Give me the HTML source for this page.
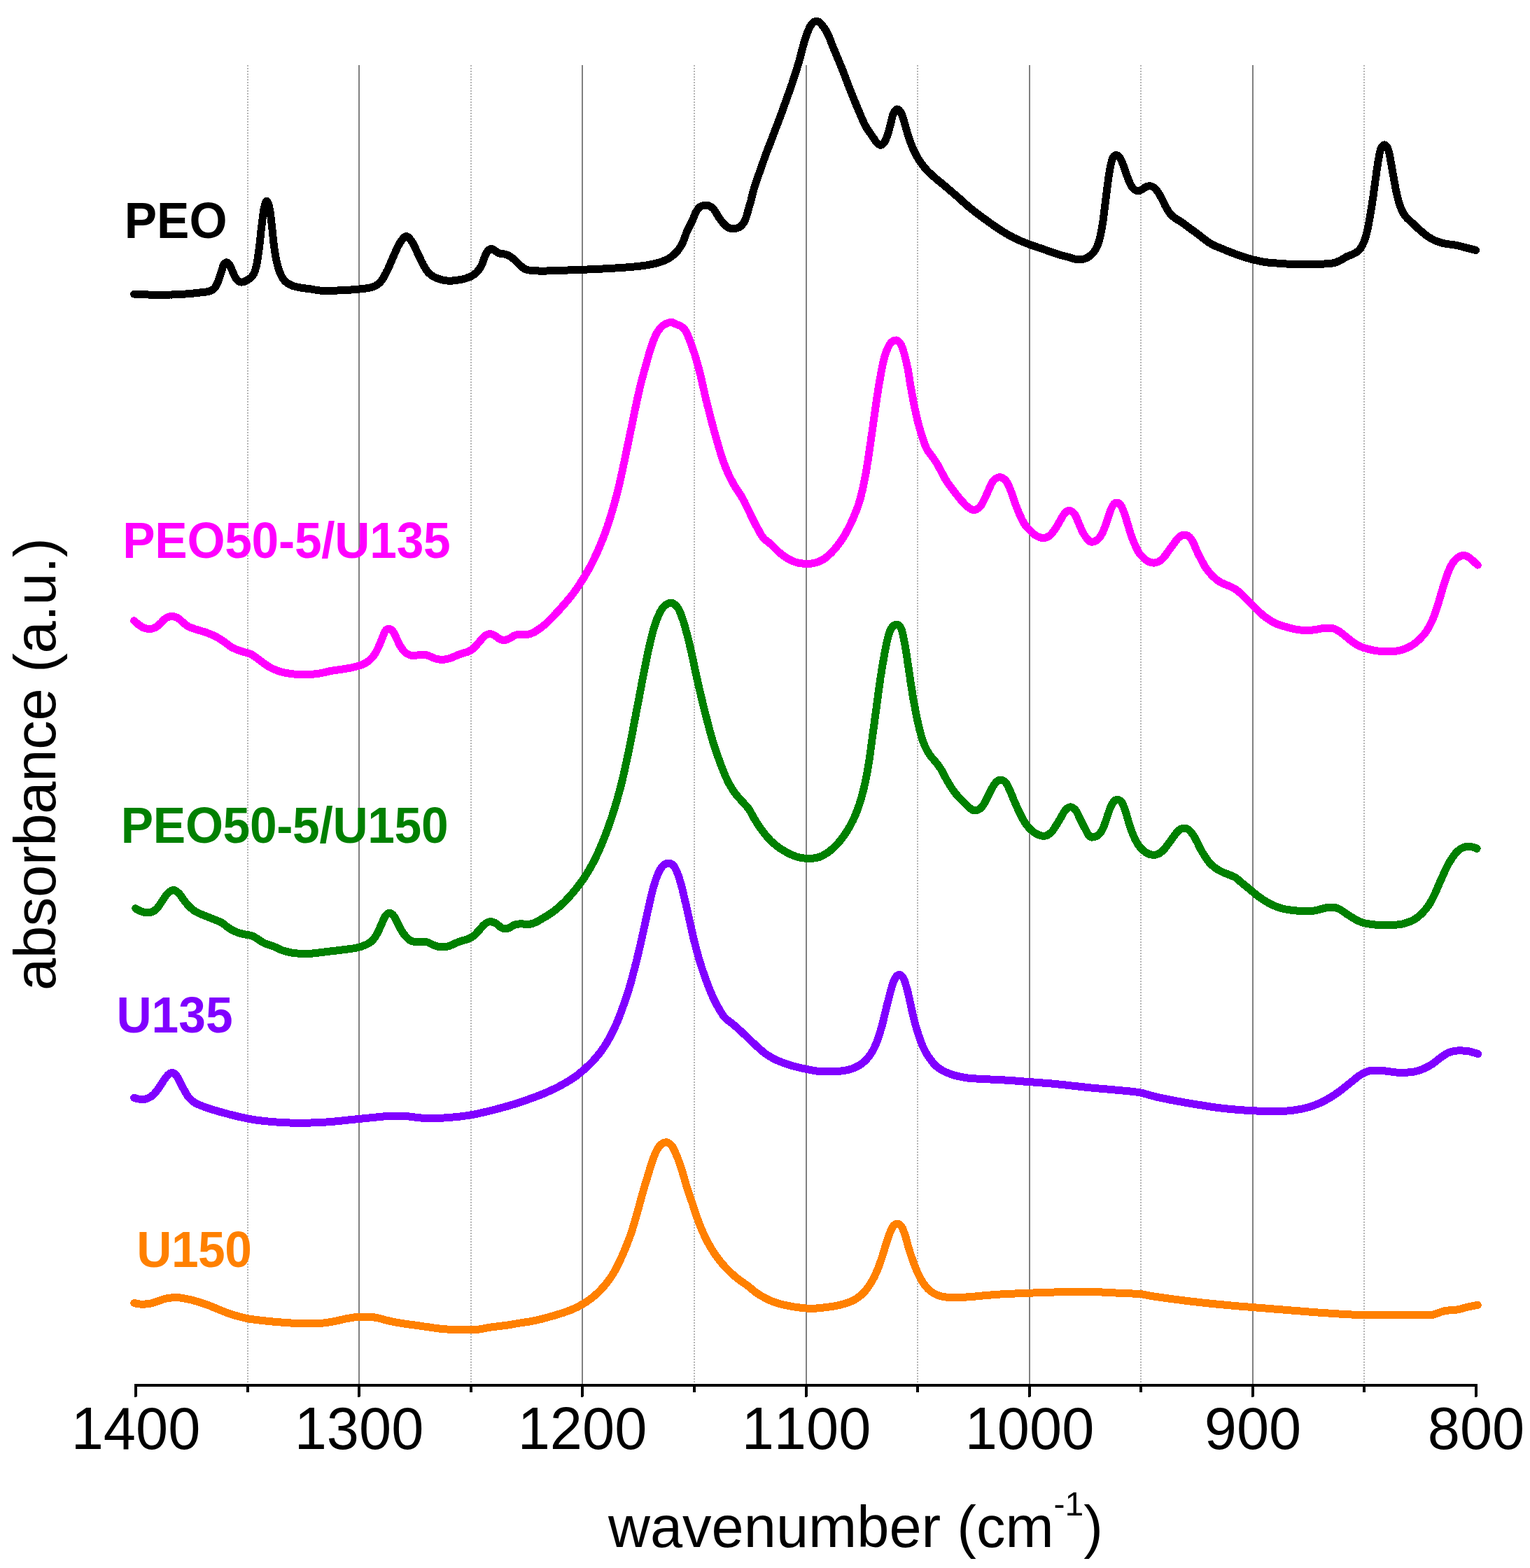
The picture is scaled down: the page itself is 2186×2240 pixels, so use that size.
<!DOCTYPE html>
<html><head><meta charset="utf-8"><title>FTIR spectra</title>
<style>
html,body{margin:0;padding:0;background:#fff;}
body{width:2186px;height:2240px;overflow:hidden;}
svg{display:block;}
path,line{shape-rendering:crispEdges;}
text{font-family:"Liberation Sans",Arial,Helvetica,sans-serif;font-kerning:none;}
.r{font-weight:400;fill:#000;}
.b{font-weight:700;}
</style></head><body>
<svg width="2186" height="2240" viewBox="0 0 2186 2240">
<rect width="2186" height="2240" fill="#fff"/>
<line x1="513.0" y1="93" x2="513.0" y2="1979.0" stroke="#808080" stroke-width="2"/>
<line x1="832.0" y1="93" x2="832.0" y2="1979.0" stroke="#808080" stroke-width="2"/>
<line x1="1152.0" y1="93" x2="1152.0" y2="1979.0" stroke="#808080" stroke-width="2"/>
<line x1="1471.0" y1="93" x2="1471.0" y2="1979.0" stroke="#808080" stroke-width="2"/>
<line x1="1790.0" y1="93" x2="1790.0" y2="1979.0" stroke="#808080" stroke-width="2"/>
<line x1="354.0" y1="93" x2="354.0" y2="1979.0" stroke="#b4b4b4" stroke-width="2" stroke-dasharray="2 2"/>
<line x1="673.0" y1="93" x2="673.0" y2="1979.0" stroke="#b4b4b4" stroke-width="2" stroke-dasharray="2 2"/>
<line x1="992.0" y1="93" x2="992.0" y2="1979.0" stroke="#b4b4b4" stroke-width="2" stroke-dasharray="2 2"/>
<line x1="1311.0" y1="93" x2="1311.0" y2="1979.0" stroke="#b4b4b4" stroke-width="2" stroke-dasharray="2 2"/>
<line x1="1630.0" y1="93" x2="1630.0" y2="1979.0" stroke="#b4b4b4" stroke-width="2" stroke-dasharray="2 2"/>
<line x1="1949.0" y1="93" x2="1949.0" y2="1979.0" stroke="#b4b4b4" stroke-width="2" stroke-dasharray="2 2"/>
<path d="M191.8 1861.5L193.8 1862.0L195.7 1862.4L197.7 1862.7L199.7 1863.0L201.7 1863.1L203.6 1863.2L205.6 1863.1L207.6 1863.0L209.6 1862.8L211.6 1862.6L213.6 1862.3L215.6 1862.0L217.5 1861.5L219.4 1861.0L221.3 1860.3L223.2 1859.6L225.1 1858.9L227.0 1858.3L228.9 1857.6L230.8 1857.0L232.7 1856.3L234.6 1855.7L236.5 1855.2L238.5 1854.8L240.4 1854.5L242.4 1854.2L244.4 1854.0L246.4 1853.8L248.4 1853.6L250.4 1853.6L252.4 1853.6L254.4 1853.7L256.4 1853.9L258.4 1854.2L260.3 1854.5L262.3 1854.8L264.3 1855.1L266.3 1855.5L268.2 1855.9L270.2 1856.3L272.1 1856.7L274.1 1857.2L276.0 1857.7L277.9 1858.3L279.9 1858.8L281.8 1859.3L283.7 1859.9L285.6 1860.5L287.5 1861.1L289.4 1861.7L291.3 1862.4L293.2 1863.0L295.1 1863.7L297.0 1864.4L298.8 1865.1L300.7 1865.8L302.6 1866.6L304.4 1867.4L306.3 1868.1L308.1 1868.9L310.0 1869.6L311.8 1870.4L313.7 1871.2L315.5 1871.9L317.4 1872.7L319.2 1873.4L321.1 1874.2L323.0 1874.9L324.8 1875.5L326.7 1876.2L328.6 1876.9L330.5 1877.5L332.4 1878.1L334.3 1878.7L336.2 1879.3L338.2 1879.8L340.1 1880.3L342.0 1880.9L344.0 1881.4L345.9 1881.9L347.9 1882.3L349.8 1882.8L351.8 1883.2L353.7 1883.6L355.7 1884.0L357.7 1884.3L359.6 1884.6L361.6 1884.9L363.6 1885.2L365.6 1885.4L367.5 1885.7L369.5 1885.9L371.5 1886.2L373.5 1886.4L375.5 1886.6L377.5 1886.8L379.5 1887.0L381.5 1887.2L383.5 1887.4L385.5 1887.6L387.5 1887.8L389.4 1888.0L391.4 1888.1L393.4 1888.3L395.4 1888.5L397.4 1888.6L399.4 1888.8L401.4 1889.0L403.4 1889.1L405.4 1889.3L407.4 1889.4L409.4 1889.6L411.4 1889.7L413.4 1889.9L415.4 1890.0L417.4 1890.1L419.4 1890.2L421.4 1890.4L423.4 1890.5L425.4 1890.5L427.4 1890.6L429.4 1890.6L431.4 1890.7L433.4 1890.7L435.4 1890.8L437.4 1890.8L439.4 1890.8L441.4 1890.9L443.4 1890.9L445.4 1890.9L447.4 1890.8L449.4 1890.8L451.4 1890.7L453.4 1890.6L455.4 1890.5L457.4 1890.4L459.3 1890.2L461.3 1890.1L463.3 1889.9L465.3 1889.7L467.3 1889.4L469.3 1889.1L471.2 1888.8L473.2 1888.4L475.2 1888.0L477.1 1887.6L479.1 1887.2L481.1 1886.8L483.0 1886.4L485.0 1886.0L486.9 1885.5L488.9 1885.1L490.8 1884.6L492.8 1884.2L494.7 1883.8L496.7 1883.4L498.7 1883.1L500.6 1882.8L502.6 1882.5L504.6 1882.2L506.6 1881.9L508.6 1881.7L510.6 1881.6L512.6 1881.5L514.6 1881.4L516.6 1881.3L518.6 1881.3L520.6 1881.2L522.6 1881.2L524.6 1881.2L526.6 1881.2L528.6 1881.3L530.6 1881.4L532.5 1881.6L534.5 1881.9L536.5 1882.3L538.5 1882.6L540.4 1883.0L542.4 1883.4L544.3 1883.9L546.2 1884.5L548.2 1885.0L550.1 1885.6L552.0 1886.1L554.0 1886.6L555.9 1887.0L557.9 1887.4L559.8 1887.8L561.8 1888.3L563.8 1888.6L565.7 1889.0L567.7 1889.4L569.7 1889.7L571.6 1890.1L573.6 1890.4L575.6 1890.7L577.6 1891.0L579.5 1891.3L581.5 1891.5L583.5 1891.8L585.5 1892.1L587.5 1892.3L589.5 1892.6L591.4 1892.9L593.4 1893.2L595.4 1893.5L597.4 1893.8L599.4 1894.0L601.3 1894.3L603.3 1894.6L605.3 1894.9L607.3 1895.2L609.3 1895.5L611.2 1895.7L613.2 1896.0L615.2 1896.3L617.2 1896.6L619.2 1896.9L621.1 1897.1L623.1 1897.4L625.1 1897.7L627.1 1897.9L629.1 1898.2L631.1 1898.4L633.1 1898.5L635.1 1898.7L637.0 1898.8L639.0 1899.0L641.0 1899.1L643.0 1899.2L645.0 1899.3L647.0 1899.4L649.0 1899.5L651.0 1899.6L653.0 1899.7L655.0 1899.7L657.0 1899.7L659.0 1899.7L661.0 1899.7L663.0 1899.7L665.0 1899.7L667.0 1899.6L669.0 1899.6L671.1 1899.6L673.1 1899.6L675.0 1899.5L677.0 1899.5L679.0 1899.4L681.0 1899.3L683.0 1899.2L685.0 1899.0L687.0 1898.7L688.9 1898.3L690.9 1897.9L692.9 1897.5L694.8 1897.1L696.8 1896.8L698.8 1896.4L700.8 1896.1L702.8 1895.9L704.7 1895.6L706.7 1895.4L708.7 1895.1L710.7 1894.9L712.7 1894.7L714.7 1894.4L716.7 1894.2L718.6 1893.9L720.6 1893.6L722.6 1893.4L724.6 1893.1L726.6 1892.8L728.5 1892.4L730.5 1892.1L732.5 1891.8L734.4 1891.4L736.4 1891.1L738.4 1890.8L740.4 1890.5L742.3 1890.1L744.3 1889.8L746.3 1889.5L748.3 1889.2L750.3 1888.9L752.2 1888.6L754.2 1888.3L756.2 1888.0L758.2 1887.6L760.1 1887.3L762.1 1886.9L764.0 1886.5L766.0 1886.1L767.9 1885.7L769.9 1885.2L771.8 1884.8L773.8 1884.3L775.7 1883.8L777.6 1883.2L779.6 1882.7L781.5 1882.2L783.4 1881.7L785.4 1881.1L787.3 1880.6L789.2 1880.1L791.2 1879.5L793.1 1879.0L795.0 1878.4L796.9 1877.8L798.8 1877.2L800.7 1876.6L802.6 1876.0L804.5 1875.4L806.4 1874.7L808.3 1874.1L810.2 1873.4L812.1 1872.7L814.0 1872.0L815.8 1871.3L817.7 1870.5L819.5 1869.7L821.3 1868.9L823.1 1868.1L824.9 1867.2L826.7 1866.3L828.5 1865.3L830.2 1864.3L831.9 1863.3L833.7 1862.3L835.4 1861.2L837.1 1860.2L838.7 1859.1L840.4 1857.9L842.0 1856.8L843.6 1855.6L845.2 1854.4L846.8 1853.2L848.4 1851.9L849.9 1850.6L851.4 1849.3L852.9 1847.9L854.3 1846.6L855.8 1845.2L857.2 1843.8L858.6 1842.3L859.9 1840.8L861.3 1839.4L862.6 1837.9L863.9 1836.4L865.2 1834.8L866.5 1833.3L867.7 1831.7L868.9 1830.1L870.1 1828.5L871.3 1826.9L872.4 1825.2L873.5 1823.6L874.6 1821.9L875.7 1820.2L876.7 1818.5L877.7 1816.8L878.7 1815.0L879.6 1813.2L880.5 1811.5L881.5 1809.7L882.4 1807.9L883.2 1806.1L884.1 1804.3L885.0 1802.5L885.9 1800.7L886.7 1798.9L887.5 1797.1L888.4 1795.2L889.2 1793.4L890.0 1791.6L890.8 1789.7L891.6 1787.9L892.3 1786.0L893.1 1784.2L893.9 1782.4L894.6 1780.5L895.4 1778.6L896.1 1776.8L896.8 1774.9L897.5 1773.1L898.3 1771.2L899.0 1769.3L899.7 1767.4L900.3 1765.6L901.0 1763.7L901.7 1761.8L902.3 1759.9L902.9 1758.0L903.5 1756.1L904.1 1754.2L904.7 1752.3L905.3 1750.4L905.9 1748.4L906.5 1746.5L907.0 1744.6L907.6 1742.7L908.1 1740.8L908.7 1738.8L909.2 1736.9L909.8 1735.0L910.3 1733.1L910.9 1731.1L911.4 1729.2L911.9 1727.3L912.5 1725.3L913.0 1723.4L913.5 1721.5L914.0 1719.6L914.5 1717.6L915.0 1715.7L915.6 1713.8L916.1 1711.8L916.6 1709.9L917.1 1708.0L917.7 1706.0L918.2 1704.1L918.8 1702.2L919.3 1700.3L919.9 1698.4L920.5 1696.4L921.0 1694.5L921.6 1692.6L922.2 1690.7L922.8 1688.8L923.4 1686.9L924.0 1685.0L924.5 1683.0L925.1 1681.1L925.7 1679.2L926.3 1677.3L926.9 1675.4L927.4 1673.5L928.0 1671.5L928.6 1669.6L929.2 1667.7L929.7 1665.8L930.3 1663.9L931.0 1662.0L931.6 1660.1L932.3 1658.2L932.9 1656.3L933.6 1654.4L934.3 1652.5L935.0 1650.6L935.8 1648.7L936.5 1646.9L937.4 1645.1L938.3 1643.3L939.2 1641.6L940.3 1639.9L941.5 1638.3L942.8 1636.7L944.2 1635.3L945.8 1634.1L947.5 1633.0L949.3 1632.2L951.2 1631.8L953.1 1632.0L954.9 1632.8L956.7 1633.9L958.2 1635.2L959.5 1636.5L960.7 1638.1L961.7 1639.8L962.7 1641.6L963.5 1643.5L964.4 1645.4L965.2 1647.3L966.0 1649.1L966.8 1650.9L967.6 1652.8L968.3 1654.6L969.0 1656.5L969.7 1658.4L970.4 1660.3L971.0 1662.2L971.7 1664.1L972.3 1666.0L973.0 1667.9L973.6 1669.8L974.2 1671.7L974.8 1673.6L975.4 1675.5L975.9 1677.4L976.5 1679.3L977.1 1681.2L977.6 1683.2L978.2 1685.1L978.7 1687.0L979.3 1688.9L979.9 1690.9L980.4 1692.8L981.0 1694.7L981.6 1696.6L982.3 1698.5L982.9 1700.4L983.5 1702.3L984.1 1704.2L984.8 1706.1L985.4 1708.0L986.1 1709.9L986.7 1711.8L987.3 1713.7L988.0 1715.6L988.6 1717.4L989.3 1719.3L989.9 1721.2L990.5 1723.2L991.1 1725.1L991.7 1727.0L992.3 1728.9L993.0 1730.8L993.6 1732.7L994.2 1734.6L994.9 1736.5L995.5 1738.4L996.2 1740.2L996.9 1742.1L997.6 1744.0L998.3 1745.9L999.0 1747.7L999.7 1749.6L1000.5 1751.4L1001.2 1753.3L1002.0 1755.2L1002.8 1757.0L1003.6 1758.8L1004.4 1760.7L1005.2 1762.5L1006.0 1764.3L1006.9 1766.1L1007.7 1767.9L1008.6 1769.7L1009.5 1771.5L1010.5 1773.3L1011.4 1775.0L1012.4 1776.8L1013.4 1778.5L1014.3 1780.3L1015.4 1782.0L1016.4 1783.7L1017.4 1785.4L1018.5 1787.1L1019.6 1788.8L1020.7 1790.5L1021.8 1792.1L1022.9 1793.8L1024.1 1795.4L1025.3 1797.0L1026.5 1798.6L1027.7 1800.2L1029.0 1801.7L1030.2 1803.3L1031.5 1804.8L1032.8 1806.3L1034.2 1807.8L1035.5 1809.3L1036.9 1810.7L1038.3 1812.2L1039.7 1813.6L1041.1 1815.0L1042.5 1816.4L1044.0 1817.8L1045.4 1819.2L1046.9 1820.6L1048.4 1821.9L1049.9 1823.3L1051.4 1824.6L1052.9 1825.8L1054.5 1827.1L1056.1 1828.3L1057.7 1829.5L1059.3 1830.6L1061.0 1831.7L1062.6 1832.9L1064.3 1834.0L1065.9 1835.1L1067.6 1836.3L1069.1 1837.5L1070.7 1838.8L1072.2 1840.0L1073.8 1841.3L1075.3 1842.6L1076.9 1843.9L1078.4 1845.1L1080.0 1846.3L1081.7 1847.4L1083.3 1848.6L1085.0 1849.6L1086.7 1850.7L1088.5 1851.7L1090.2 1852.7L1091.9 1853.7L1093.7 1854.6L1095.5 1855.5L1097.3 1856.4L1099.1 1857.3L1100.9 1858.1L1102.8 1858.9L1104.6 1859.6L1106.5 1860.3L1108.4 1860.9L1110.3 1861.5L1112.2 1862.1L1114.1 1862.6L1116.1 1863.1L1118.0 1863.6L1120.0 1864.1L1121.9 1864.5L1123.9 1864.9L1125.8 1865.3L1127.8 1865.7L1129.8 1866.1L1131.8 1866.5L1133.7 1866.8L1135.7 1867.1L1137.7 1867.4L1139.7 1867.7L1141.6 1867.9L1143.6 1868.1L1145.6 1868.4L1147.6 1868.6L1149.6 1868.8L1151.6 1869.0L1153.6 1869.1L1155.6 1869.2L1157.6 1869.3L1159.6 1869.4L1161.6 1869.3L1163.6 1869.3L1165.6 1869.1L1167.6 1868.9L1169.6 1868.7L1171.6 1868.5L1173.5 1868.3L1175.5 1868.1L1177.5 1867.9L1179.5 1867.7L1181.5 1867.4L1183.5 1867.2L1185.5 1866.9L1187.5 1866.6L1189.4 1866.3L1191.4 1866.0L1193.4 1865.6L1195.3 1865.2L1197.3 1864.8L1199.3 1864.4L1201.2 1863.9L1203.1 1863.4L1205.1 1862.9L1207.0 1862.4L1208.9 1861.8L1210.8 1861.1L1212.7 1860.4L1214.6 1859.7L1216.4 1858.9L1218.2 1858.1L1220.0 1857.2L1221.7 1856.3L1223.4 1855.2L1225.1 1854.1L1226.8 1852.9L1228.4 1851.7L1229.9 1850.4L1231.4 1849.1L1232.8 1847.7L1234.2 1846.3L1235.6 1844.8L1236.9 1843.3L1238.1 1841.7L1239.3 1840.1L1240.5 1838.5L1241.7 1836.8L1242.8 1835.2L1243.8 1833.5L1244.9 1831.8L1245.9 1830.1L1246.9 1828.3L1247.8 1826.5L1248.8 1824.8L1249.7 1823.0L1250.5 1821.2L1251.4 1819.3L1252.2 1817.5L1253.0 1815.7L1253.7 1813.9L1254.5 1812.0L1255.2 1810.1L1255.9 1808.3L1256.6 1806.4L1257.3 1804.5L1257.9 1802.6L1258.6 1800.7L1259.2 1798.8L1259.9 1796.9L1260.5 1795.0L1261.1 1793.1L1261.7 1791.2L1262.3 1789.3L1262.9 1787.4L1263.5 1785.5L1264.0 1783.5L1264.6 1781.6L1265.2 1779.7L1265.8 1777.8L1266.4 1775.9L1267.1 1774.0L1267.7 1772.1L1268.3 1770.2L1268.9 1768.2L1269.6 1766.3L1270.2 1764.4L1270.9 1762.6L1271.6 1760.7L1272.4 1758.9L1273.3 1757.1L1274.2 1755.2L1275.1 1753.3L1276.2 1751.6L1277.5 1750.2L1279.0 1749.0L1280.8 1748.3L1282.6 1748.2L1284.4 1748.9L1286.1 1750.1L1287.4 1751.5L1288.5 1753.0L1289.5 1754.7L1290.3 1756.6L1291.0 1758.5L1291.7 1760.5L1292.4 1762.4L1293.1 1764.3L1293.7 1766.2L1294.3 1768.1L1294.8 1770.1L1295.3 1772.0L1295.9 1773.9L1296.4 1775.9L1296.9 1777.8L1297.4 1779.7L1298.0 1781.7L1298.5 1783.6L1299.1 1785.5L1299.7 1787.4L1300.3 1789.3L1300.9 1791.2L1301.6 1793.1L1302.2 1795.0L1302.8 1796.9L1303.5 1798.8L1304.2 1800.7L1304.8 1802.6L1305.5 1804.5L1306.2 1806.3L1307.0 1808.2L1307.7 1810.1L1308.4 1811.9L1309.2 1813.8L1310.0 1815.6L1310.8 1817.5L1311.6 1819.3L1312.5 1821.1L1313.4 1822.9L1314.3 1824.6L1315.2 1826.4L1316.2 1828.2L1317.2 1829.9L1318.3 1831.6L1319.4 1833.3L1320.6 1834.9L1321.8 1836.5L1323.0 1838.0L1324.3 1839.5L1325.7 1841.0L1327.2 1842.4L1328.7 1843.7L1330.3 1845.0L1331.9 1846.1L1333.6 1847.2L1335.3 1848.1L1337.1 1849.0L1338.9 1849.9L1340.8 1850.7L1342.7 1851.3L1344.7 1851.9L1346.6 1852.3L1348.5 1852.6L1350.5 1852.9L1352.5 1853.2L1354.5 1853.4L1356.5 1853.6L1358.5 1853.8L1360.5 1853.8L1362.5 1853.9L1364.5 1853.9L1366.5 1853.8L1368.5 1853.7L1370.5 1853.6L1372.5 1853.5L1374.5 1853.4L1376.5 1853.3L1378.5 1853.2L1380.5 1853.0L1382.5 1852.9L1384.5 1852.7L1386.5 1852.6L1388.5 1852.4L1390.5 1852.3L1392.5 1852.1L1394.5 1851.9L1396.5 1851.7L1398.4 1851.5L1400.4 1851.3L1402.4 1851.1L1404.4 1850.9L1406.4 1850.7L1408.4 1850.6L1410.4 1850.4L1412.4 1850.2L1414.4 1850.1L1416.4 1849.9L1418.4 1849.8L1420.4 1849.6L1422.4 1849.5L1424.4 1849.3L1426.4 1849.2L1428.3 1849.1L1430.3 1848.9L1432.3 1848.8L1434.3 1848.7L1436.3 1848.6L1438.3 1848.5L1440.3 1848.4L1442.3 1848.3L1444.3 1848.2L1446.3 1848.2L1448.3 1848.1L1450.3 1848.0L1452.3 1847.9L1454.3 1847.9L1456.3 1847.8L1458.3 1847.7L1460.3 1847.6L1462.3 1847.6L1464.3 1847.5L1466.3 1847.4L1468.3 1847.3L1470.3 1847.2L1472.3 1847.2L1474.3 1847.1L1476.3 1847.0L1478.3 1846.9L1480.3 1846.8L1482.3 1846.8L1484.3 1846.7L1486.3 1846.6L1488.3 1846.5L1490.3 1846.5L1492.3 1846.4L1494.3 1846.3L1496.3 1846.3L1498.3 1846.2L1500.3 1846.1L1502.3 1846.1L1504.3 1846.0L1506.3 1846.0L1508.3 1845.9L1510.3 1845.9L1512.3 1845.8L1514.3 1845.8L1516.3 1845.7L1518.3 1845.6L1520.3 1845.6L1522.3 1845.5L1524.3 1845.5L1526.3 1845.4L1528.3 1845.4L1530.3 1845.3L1532.3 1845.3L1534.3 1845.3L1536.3 1845.2L1538.3 1845.2L1540.3 1845.2L1542.3 1845.2L1544.3 1845.2L1546.3 1845.2L1548.3 1845.2L1550.3 1845.2L1552.3 1845.2L1554.3 1845.2L1556.3 1845.2L1558.3 1845.3L1560.3 1845.3L1562.3 1845.4L1564.3 1845.5L1566.3 1845.6L1568.3 1845.7L1570.3 1845.8L1572.3 1845.9L1574.3 1846.0L1576.3 1846.1L1578.3 1846.2L1580.3 1846.3L1582.3 1846.4L1584.3 1846.5L1586.3 1846.6L1588.3 1846.7L1590.2 1846.8L1592.2 1846.9L1594.2 1847.0L1596.2 1847.1L1598.2 1847.2L1600.2 1847.3L1602.2 1847.4L1604.2 1847.5L1606.2 1847.6L1608.2 1847.7L1610.2 1847.7L1612.2 1847.8L1614.2 1847.9L1616.2 1847.9L1618.2 1848.0L1620.2 1848.1L1622.2 1848.2L1624.2 1848.3L1626.2 1848.4L1628.2 1848.5L1630.2 1848.7L1632.2 1849.0L1634.1 1849.3L1636.1 1849.8L1638.1 1850.2L1640.0 1850.6L1642.0 1850.9L1644.0 1851.3L1645.9 1851.6L1647.9 1851.9L1649.9 1852.2L1651.9 1852.5L1653.8 1852.8L1655.8 1853.1L1657.8 1853.4L1659.8 1853.6L1661.8 1853.9L1663.7 1854.2L1665.7 1854.5L1667.7 1854.7L1669.7 1855.0L1671.7 1855.3L1673.7 1855.5L1675.6 1855.8L1677.6 1856.1L1679.6 1856.3L1681.6 1856.6L1683.6 1856.8L1685.6 1857.1L1687.5 1857.3L1689.5 1857.6L1691.5 1857.8L1693.5 1858.1L1695.5 1858.3L1697.5 1858.6L1699.4 1858.8L1701.4 1859.1L1703.4 1859.3L1705.4 1859.5L1707.4 1859.8L1709.4 1860.0L1711.4 1860.3L1713.3 1860.5L1715.3 1860.7L1717.3 1860.9L1719.3 1861.2L1721.3 1861.4L1723.3 1861.6L1725.3 1861.8L1727.3 1862.0L1729.3 1862.2L1731.2 1862.4L1733.2 1862.6L1735.2 1862.8L1737.2 1863.0L1739.2 1863.2L1741.2 1863.4L1743.2 1863.6L1745.2 1863.7L1747.2 1863.9L1749.2 1864.1L1751.2 1864.3L1753.2 1864.5L1755.1 1864.7L1757.1 1864.8L1759.1 1865.0L1761.1 1865.2L1763.1 1865.4L1765.1 1865.6L1767.1 1865.7L1769.1 1865.9L1771.1 1866.1L1773.1 1866.2L1775.1 1866.4L1777.1 1866.6L1779.1 1866.7L1781.0 1866.9L1783.0 1867.0L1785.0 1867.2L1787.0 1867.4L1789.0 1867.5L1791.0 1867.7L1793.0 1867.8L1795.0 1868.0L1797.0 1868.1L1799.0 1868.3L1801.0 1868.5L1803.0 1868.6L1805.0 1868.8L1807.0 1868.9L1809.0 1869.1L1811.0 1869.3L1812.9 1869.4L1814.9 1869.6L1816.9 1869.7L1818.9 1869.9L1820.9 1870.1L1822.9 1870.2L1824.9 1870.4L1826.9 1870.5L1828.9 1870.7L1830.9 1870.9L1832.9 1871.0L1834.9 1871.2L1836.9 1871.3L1838.9 1871.5L1840.9 1871.7L1842.9 1871.8L1844.8 1872.0L1846.8 1872.1L1848.8 1872.3L1850.8 1872.5L1852.8 1872.6L1854.8 1872.8L1856.8 1872.9L1858.8 1873.1L1860.8 1873.3L1862.8 1873.4L1864.8 1873.6L1866.8 1873.8L1868.8 1873.9L1870.8 1874.1L1872.8 1874.2L1874.8 1874.4L1876.7 1874.5L1878.7 1874.7L1880.7 1874.8L1882.7 1875.0L1884.7 1875.1L1886.7 1875.3L1888.7 1875.4L1890.7 1875.5L1892.7 1875.7L1894.7 1875.8L1896.7 1875.9L1898.7 1876.1L1900.7 1876.2L1902.7 1876.3L1904.7 1876.5L1906.7 1876.6L1908.7 1876.7L1910.7 1876.9L1912.7 1877.0L1914.7 1877.1L1916.7 1877.3L1918.7 1877.4L1920.7 1877.5L1922.6 1877.6L1924.6 1877.7L1926.6 1877.8L1928.6 1877.9L1930.6 1878.0L1932.6 1878.1L1934.6 1878.1L1936.6 1878.2L1938.6 1878.3L1940.6 1878.4L1942.6 1878.5L1944.6 1878.5L1946.6 1878.6L1948.6 1878.6L1950.6 1878.7L1952.6 1878.7L1954.6 1878.7L1956.6 1878.7L1958.6 1878.7L1960.6 1878.7L1962.6 1878.7L1964.6 1878.7L1966.6 1878.7L1968.6 1878.7L1970.6 1878.7L1972.6 1878.7L1974.6 1878.7L1976.6 1878.7L1978.6 1878.7L1980.6 1878.7L1982.6 1878.7L1984.6 1878.7L1986.6 1878.6L1988.6 1878.6L1990.6 1878.5L1992.6 1878.5L1994.6 1878.4L1996.6 1878.4L1998.6 1878.3L2000.6 1878.3L2002.6 1878.2L2004.6 1878.2L2006.6 1878.2L2008.6 1878.2L2010.6 1878.2L2012.6 1878.3L2014.6 1878.3L2016.6 1878.4L2018.6 1878.5L2020.6 1878.5L2022.6 1878.6L2024.6 1878.6L2026.6 1878.7L2028.6 1878.7L2030.6 1878.7L2032.6 1878.7L2034.7 1878.7L2036.7 1878.7L2038.7 1878.7L2040.7 1878.7L2042.6 1878.7L2044.6 1878.6L2046.5 1878.4L2048.5 1877.9L2050.4 1877.2L2052.3 1876.5L2054.2 1875.8L2056.1 1875.2L2058.0 1874.5L2059.9 1873.9L2061.8 1873.3L2063.8 1872.8L2065.7 1872.4L2067.7 1872.2L2069.7 1872.0L2071.7 1871.8L2073.7 1871.7L2075.7 1871.6L2077.7 1871.4L2079.7 1871.2L2081.6 1871.0L2083.6 1870.6L2085.5 1870.2L2087.5 1869.7L2089.4 1869.2L2091.3 1868.6L2093.3 1868.1L2095.2 1867.6L2097.2 1867.1L2099.1 1866.7L2101.1 1866.3L2103.0 1865.9L2105.0 1865.5L2106.9 1865.1L2108.9 1864.7L2110.8 1864.4L2111.4 1864.3" fill="none" stroke="#ff8000" stroke-width="11.0" stroke-linecap="round" stroke-linejoin="round"/>
<path d="M191.6 1568.3L193.5 1568.9L195.4 1569.5L197.3 1569.9L199.3 1570.2L201.3 1570.4L203.3 1570.5L205.3 1570.5L207.3 1570.2L209.2 1569.7L211.1 1569.0L212.9 1568.2L214.6 1567.2L216.3 1566.1L217.9 1564.8L219.4 1563.5L220.8 1562.1L222.1 1560.6L223.4 1559.1L224.6 1557.5L225.8 1555.8L226.9 1554.1L228.0 1552.5L229.2 1550.8L230.3 1549.2L231.4 1547.5L232.4 1545.8L233.5 1544.1L234.6 1542.4L235.8 1540.8L237.0 1539.2L238.3 1537.6L239.6 1536.1L241.1 1534.8L242.7 1533.5L244.4 1532.7L246.2 1532.5L248.0 1533.1L249.7 1534.2L251.1 1535.5L252.3 1537.0L253.4 1538.6L254.4 1540.4L255.3 1542.2L256.3 1544.1L257.2 1545.9L258.1 1547.7L259.1 1549.5L260.0 1551.3L260.9 1553.0L261.8 1554.8L262.8 1556.6L263.8 1558.3L264.8 1560.0L265.8 1561.8L266.8 1563.5L267.9 1565.2L269.1 1566.8L270.3 1568.4L271.6 1569.8L273.1 1571.2L274.6 1572.5L276.2 1573.8L277.9 1574.9L279.5 1575.9L281.3 1576.8L283.1 1577.7L285.0 1578.5L286.8 1579.3L288.7 1580.0L290.6 1580.7L292.5 1581.4L294.3 1582.1L296.2 1582.7L298.1 1583.4L300.0 1584.0L301.9 1584.6L303.9 1585.2L305.8 1585.8L307.7 1586.3L309.6 1586.9L311.5 1587.5L313.4 1588.1L315.4 1588.6L317.3 1589.2L319.2 1589.7L321.1 1590.2L323.1 1590.7L325.0 1591.2L326.9 1591.8L328.9 1592.2L330.8 1592.7L332.8 1593.2L334.7 1593.7L336.6 1594.2L338.6 1594.6L340.5 1595.1L342.5 1595.5L344.4 1595.9L346.4 1596.4L348.4 1596.8L350.3 1597.2L352.3 1597.6L354.2 1598.1L356.2 1598.4L358.2 1598.8L360.1 1599.2L362.1 1599.5L364.1 1599.8L366.0 1600.1L368.0 1600.3L370.0 1600.6L372.0 1600.8L374.0 1601.1L376.0 1601.3L378.0 1601.5L380.0 1601.7L382.0 1601.9L383.9 1602.1L385.9 1602.2L387.9 1602.4L389.9 1602.6L391.9 1602.8L393.9 1602.9L395.9 1603.1L397.9 1603.3L399.9 1603.4L401.9 1603.5L403.9 1603.6L405.9 1603.7L407.9 1603.8L409.9 1603.8L411.9 1603.9L413.9 1604.0L415.9 1604.0L417.9 1604.1L419.9 1604.1L421.9 1604.2L423.9 1604.2L425.9 1604.2L427.9 1604.2L429.9 1604.2L431.9 1604.2L433.9 1604.2L435.9 1604.2L437.9 1604.1L439.9 1604.1L441.9 1604.1L443.9 1604.0L445.9 1603.9L447.9 1603.9L449.9 1603.8L451.9 1603.7L453.9 1603.7L455.9 1603.6L457.9 1603.5L459.9 1603.4L461.9 1603.3L463.9 1603.1L465.9 1603.0L467.9 1602.9L469.9 1602.7L471.8 1602.6L473.8 1602.4L475.8 1602.3L477.8 1602.1L479.8 1601.9L481.8 1601.7L483.8 1601.5L485.8 1601.3L487.8 1601.1L489.8 1600.9L491.8 1600.6L493.7 1600.4L495.7 1600.2L497.7 1600.0L499.7 1599.8L501.7 1599.6L503.7 1599.4L505.7 1599.2L507.7 1599.0L509.7 1598.8L511.7 1598.6L513.6 1598.4L515.6 1598.2L517.6 1598.0L519.6 1597.8L521.6 1597.6L523.6 1597.4L525.6 1597.2L527.6 1597.0L529.6 1596.8L531.6 1596.7L533.6 1596.4L535.5 1596.2L537.5 1596.0L539.5 1595.8L541.5 1595.6L543.5 1595.4L545.5 1595.2L547.5 1595.0L549.5 1594.8L551.5 1594.7L553.5 1594.6L555.5 1594.5L557.5 1594.4L559.5 1594.4L561.5 1594.3L563.5 1594.3L565.5 1594.3L567.5 1594.3L569.5 1594.3L571.5 1594.3L573.5 1594.4L575.5 1594.5L577.5 1594.6L579.5 1594.7L581.5 1594.8L583.4 1594.9L585.4 1595.1L587.4 1595.3L589.4 1595.6L591.4 1595.8L593.4 1596.1L595.4 1596.4L597.4 1596.6L599.3 1596.8L601.3 1597.0L603.3 1597.1L605.3 1597.3L607.3 1597.4L609.3 1597.6L611.3 1597.7L613.3 1597.8L615.3 1597.9L617.3 1597.9L619.3 1597.9L621.3 1597.9L623.3 1597.8L625.3 1597.7L627.3 1597.6L629.3 1597.4L631.3 1597.3L633.3 1597.1L635.3 1596.9L637.3 1596.8L639.3 1596.6L641.3 1596.4L643.3 1596.3L645.3 1596.1L647.3 1596.0L649.2 1595.8L651.2 1595.7L653.2 1595.5L655.2 1595.3L657.2 1595.1L659.2 1594.8L661.2 1594.6L663.2 1594.3L665.1 1594.0L667.1 1593.7L669.1 1593.4L671.1 1593.1L673.0 1592.8L675.0 1592.4L677.0 1592.1L678.9 1591.7L680.9 1591.3L682.9 1590.9L684.8 1590.4L686.8 1590.0L688.7 1589.5L690.7 1589.1L692.6 1588.6L694.6 1588.2L696.5 1587.7L698.5 1587.3L700.4 1586.8L702.3 1586.3L704.3 1585.8L706.2 1585.3L708.2 1584.8L710.1 1584.3L712.0 1583.8L714.0 1583.3L715.9 1582.8L717.8 1582.2L719.7 1581.7L721.7 1581.2L723.6 1580.6L725.5 1580.1L727.4 1579.5L729.4 1578.9L731.3 1578.4L733.2 1577.8L735.1 1577.2L737.0 1576.6L738.9 1576.0L740.8 1575.3L742.7 1574.7L744.6 1574.1L746.5 1573.4L748.4 1572.8L750.3 1572.1L752.2 1571.5L754.1 1570.8L755.9 1570.1L757.8 1569.5L759.7 1568.8L761.6 1568.1L763.5 1567.4L765.4 1566.7L767.2 1566.0L769.1 1565.3L771.0 1564.6L772.8 1563.9L774.7 1563.1L776.5 1562.4L778.4 1561.6L780.2 1560.8L782.1 1560.0L783.9 1559.2L785.7 1558.4L787.5 1557.6L789.3 1556.7L791.1 1555.9L792.9 1555.0L794.7 1554.1L796.5 1553.2L798.3 1552.3L800.1 1551.3L801.8 1550.4L803.6 1549.4L805.3 1548.4L807.1 1547.5L808.8 1546.4L810.5 1545.4L812.2 1544.4L813.9 1543.3L815.6 1542.3L817.3 1541.2L819.0 1540.1L820.6 1538.9L822.3 1537.8L823.9 1536.6L825.5 1535.4L827.0 1534.2L828.6 1532.9L830.1 1531.6L831.7 1530.3L833.2 1529.0L834.7 1527.7L836.2 1526.4L837.6 1525.0L839.1 1523.6L840.6 1522.3L842.0 1520.9L843.4 1519.5L844.9 1518.1L846.3 1516.6L847.6 1515.2L849.0 1513.7L850.3 1512.2L851.6 1510.7L852.9 1509.2L854.2 1507.7L855.4 1506.1L856.7 1504.5L857.9 1502.9L859.1 1501.3L860.3 1499.7L861.4 1498.0L862.6 1496.4L863.7 1494.7L864.7 1493.1L865.8 1491.4L866.8 1489.7L867.8 1487.9L868.8 1486.2L869.8 1484.4L870.8 1482.7L871.7 1480.9L872.6 1479.1L873.6 1477.4L874.5 1475.6L875.4 1473.8L876.3 1472.0L877.1 1470.2L878.0 1468.4L878.8 1466.6L879.7 1464.8L880.5 1462.9L881.3 1461.1L882.1 1459.3L882.9 1457.4L883.6 1455.6L884.4 1453.7L885.1 1451.9L885.8 1450.0L886.5 1448.1L887.2 1446.2L887.9 1444.4L888.6 1442.5L889.3 1440.6L889.9 1438.7L890.6 1436.8L891.3 1434.9L891.9 1433.1L892.6 1431.2L893.3 1429.3L893.9 1427.4L894.5 1425.5L895.2 1423.6L895.8 1421.7L896.4 1419.8L897.0 1417.9L897.7 1416.0L898.2 1414.1L898.8 1412.2L899.4 1410.2L900.0 1408.3L900.5 1406.4L901.1 1404.5L901.6 1402.6L902.1 1400.6L902.7 1398.7L903.2 1396.8L903.7 1394.8L904.2 1392.9L904.7 1391.0L905.2 1389.0L905.7 1387.1L906.3 1385.2L906.8 1383.2L907.2 1381.3L907.7 1379.3L908.2 1377.4L908.7 1375.5L909.2 1373.5L909.7 1371.6L910.1 1369.6L910.6 1367.7L911.1 1365.7L911.6 1363.8L912.0 1361.9L912.5 1359.9L912.9 1358.0L913.4 1356.0L913.9 1354.1L914.3 1352.1L914.8 1350.2L915.2 1348.2L915.6 1346.3L916.1 1344.3L916.5 1342.4L917.0 1340.4L917.4 1338.5L917.8 1336.5L918.3 1334.6L918.7 1332.6L919.1 1330.7L919.6 1328.7L920.0 1326.7L920.4 1324.8L920.9 1322.8L921.3 1320.9L921.7 1318.9L922.1 1317.0L922.6 1315.0L923.0 1313.1L923.4 1311.1L923.9 1309.2L924.3 1307.2L924.7 1305.3L925.1 1303.3L925.6 1301.3L926.0 1299.4L926.4 1297.4L926.9 1295.5L927.3 1293.5L927.7 1291.6L928.2 1289.6L928.6 1287.7L929.1 1285.7L929.5 1283.8L930.0 1281.8L930.4 1279.9L930.9 1277.9L931.4 1276.0L931.9 1274.0L932.4 1272.1L932.9 1270.2L933.4 1268.2L933.9 1266.3L934.5 1264.4L935.1 1262.5L935.7 1260.6L936.3 1258.7L936.9 1256.7L937.6 1254.8L938.3 1253.0L939.0 1251.1L939.8 1249.3L940.6 1247.5L941.5 1245.7L942.4 1243.8L943.4 1242.0L944.5 1240.3L945.6 1238.7L946.9 1237.2L948.3 1235.9L950.0 1234.7L951.7 1233.8L953.6 1233.2L955.6 1233.1L957.5 1233.4L959.3 1234.2L960.9 1235.3L962.3 1236.6L963.5 1238.3L964.5 1240.0L965.5 1241.8L966.4 1243.6L967.2 1245.4L967.9 1247.3L968.6 1249.1L969.3 1251.1L969.9 1253.0L970.5 1254.9L971.1 1256.8L971.7 1258.8L972.3 1260.7L972.8 1262.6L973.4 1264.5L973.9 1266.5L974.4 1268.4L974.9 1270.3L975.4 1272.3L975.8 1274.2L976.3 1276.2L976.8 1278.1L977.2 1280.1L977.7 1282.0L978.1 1284.0L978.6 1285.9L979.0 1287.9L979.5 1289.8L980.0 1291.8L980.4 1293.7L980.9 1295.7L981.3 1297.6L981.7 1299.6L982.2 1301.5L982.6 1303.5L983.0 1305.4L983.5 1307.4L983.9 1309.3L984.4 1311.3L984.8 1313.2L985.2 1315.2L985.7 1317.1L986.1 1319.1L986.6 1321.0L987.0 1323.0L987.4 1324.9L987.8 1326.9L988.3 1328.8L988.7 1330.8L989.2 1332.7L989.6 1334.7L990.0 1336.6L990.5 1338.6L990.9 1340.5L991.4 1342.5L991.9 1344.4L992.4 1346.4L992.9 1348.3L993.4 1350.2L993.9 1352.2L994.4 1354.1L994.9 1356.1L995.4 1358.0L995.9 1359.9L996.5 1361.8L997.0 1363.8L997.5 1365.7L998.1 1367.6L998.6 1369.5L999.2 1371.5L999.8 1373.4L1000.4 1375.3L1001.0 1377.2L1001.6 1379.1L1002.2 1381.0L1002.8 1382.9L1003.4 1384.8L1004.1 1386.7L1004.7 1388.6L1005.4 1390.5L1006.0 1392.4L1006.7 1394.3L1007.4 1396.1L1008.0 1398.0L1008.7 1399.9L1009.4 1401.8L1010.1 1403.7L1010.8 1405.6L1011.5 1407.4L1012.2 1409.3L1012.9 1411.2L1013.7 1413.0L1014.4 1414.9L1015.2 1416.7L1016.0 1418.6L1016.8 1420.4L1017.6 1422.2L1018.4 1424.0L1019.2 1425.9L1020.1 1427.7L1021.0 1429.5L1021.9 1431.3L1022.8 1433.0L1023.7 1434.8L1024.7 1436.6L1025.7 1438.3L1026.7 1440.1L1027.7 1441.8L1028.7 1443.5L1029.7 1445.3L1030.8 1447.0L1031.9 1448.7L1033.0 1450.4L1034.2 1452.0L1035.5 1453.5L1036.8 1454.9L1038.2 1456.2L1039.7 1457.5L1041.3 1458.7L1043.0 1459.9L1044.6 1461.1L1046.2 1462.3L1047.8 1463.6L1049.3 1464.9L1050.8 1466.2L1052.3 1467.5L1053.8 1468.9L1055.3 1470.2L1056.7 1471.5L1058.2 1472.9L1059.7 1474.3L1061.2 1475.6L1062.6 1477.0L1064.1 1478.3L1065.5 1479.7L1067.0 1481.1L1068.4 1482.5L1069.9 1483.9L1071.3 1485.3L1072.7 1486.7L1074.2 1488.1L1075.6 1489.4L1077.1 1490.8L1078.6 1492.2L1080.0 1493.5L1081.5 1494.8L1083.0 1496.2L1084.5 1497.5L1086.0 1498.9L1087.5 1500.2L1089.1 1501.5L1090.6 1502.8L1092.2 1504.1L1093.7 1505.3L1095.3 1506.4L1097.0 1507.5L1098.7 1508.6L1100.4 1509.6L1102.1 1510.6L1103.9 1511.6L1105.6 1512.5L1107.4 1513.4L1109.3 1514.3L1111.1 1515.1L1112.9 1515.9L1114.8 1516.7L1116.6 1517.4L1118.5 1518.1L1120.3 1518.8L1122.2 1519.5L1124.1 1520.2L1126.0 1520.8L1128.0 1521.4L1129.9 1522.0L1131.8 1522.5L1133.7 1523.1L1135.6 1523.6L1137.6 1524.1L1139.5 1524.6L1141.5 1525.1L1143.4 1525.5L1145.4 1526.0L1147.3 1526.4L1149.3 1526.8L1151.2 1527.2L1153.2 1527.6L1155.2 1528.0L1157.1 1528.4L1159.1 1528.8L1161.1 1529.1L1163.0 1529.5L1165.0 1529.8L1167.0 1530.1L1169.0 1530.4L1171.0 1530.5L1173.0 1530.7L1175.0 1530.8L1177.0 1530.8L1179.0 1530.9L1181.0 1530.9L1183.0 1530.9L1185.0 1530.9L1187.0 1530.9L1189.0 1530.8L1191.0 1530.8L1193.0 1530.6L1195.0 1530.5L1197.0 1530.4L1198.9 1530.2L1200.9 1530.1L1202.9 1529.8L1204.9 1529.6L1206.9 1529.3L1208.9 1528.9L1210.8 1528.5L1212.8 1528.1L1214.7 1527.6L1216.6 1527.0L1218.5 1526.3L1220.4 1525.5L1222.2 1524.7L1224.0 1523.8L1225.8 1522.9L1227.5 1521.9L1229.2 1520.9L1230.9 1519.7L1232.5 1518.5L1234.0 1517.2L1235.5 1515.9L1236.9 1514.5L1238.3 1513.1L1239.6 1511.6L1240.9 1510.0L1242.2 1508.4L1243.4 1506.8L1244.5 1505.1L1245.5 1503.4L1246.5 1501.7L1247.5 1500.0L1248.4 1498.2L1249.3 1496.4L1250.1 1494.6L1250.9 1492.7L1251.7 1490.9L1252.5 1489.0L1253.2 1487.1L1253.9 1485.3L1254.6 1483.4L1255.2 1481.5L1255.9 1479.6L1256.5 1477.7L1257.1 1475.8L1257.7 1473.9L1258.2 1472.0L1258.8 1470.0L1259.3 1468.1L1259.9 1466.2L1260.4 1464.3L1260.9 1462.3L1261.4 1460.4L1261.9 1458.4L1262.4 1456.5L1262.8 1454.6L1263.3 1452.6L1263.8 1450.7L1264.2 1448.7L1264.7 1446.8L1265.1 1444.8L1265.6 1442.9L1266.1 1440.9L1266.6 1439.0L1267.0 1437.0L1267.5 1435.1L1268.0 1433.2L1268.5 1431.2L1269.0 1429.3L1269.5 1427.3L1270.0 1425.4L1270.5 1423.5L1271.0 1421.5L1271.5 1419.6L1272.0 1417.7L1272.6 1415.7L1273.1 1413.8L1273.6 1411.8L1274.1 1409.9L1274.7 1408.0L1275.3 1406.0L1275.9 1404.2L1276.6 1402.3L1277.4 1400.5L1278.3 1398.6L1279.3 1396.8L1280.4 1395.2L1281.8 1393.8L1283.4 1392.8L1285.2 1392.5L1287.0 1393.1L1288.5 1394.3L1289.7 1395.7L1290.7 1397.3L1291.6 1399.1L1292.3 1401.1L1293.0 1403.0L1293.6 1405.0L1294.2 1407.0L1294.8 1408.9L1295.4 1410.8L1295.9 1412.7L1296.4 1414.7L1296.9 1416.6L1297.4 1418.6L1297.8 1420.5L1298.3 1422.5L1298.7 1424.4L1299.1 1426.4L1299.6 1428.3L1300.0 1430.3L1300.5 1432.2L1300.9 1434.2L1301.3 1436.2L1301.7 1438.1L1302.2 1440.1L1302.6 1442.0L1303.0 1444.0L1303.4 1445.9L1303.9 1447.9L1304.3 1449.8L1304.8 1451.8L1305.3 1453.7L1305.8 1455.7L1306.3 1457.6L1306.8 1459.5L1307.3 1461.5L1307.8 1463.4L1308.3 1465.3L1308.9 1467.3L1309.4 1469.2L1310.0 1471.1L1310.6 1473.0L1311.2 1474.9L1311.8 1476.8L1312.4 1478.7L1313.1 1480.6L1313.7 1482.5L1314.4 1484.4L1315.1 1486.3L1315.8 1488.2L1316.5 1490.0L1317.3 1491.9L1318.0 1493.7L1318.8 1495.6L1319.7 1497.4L1320.5 1499.1L1321.5 1500.9L1322.4 1502.7L1323.4 1504.5L1324.4 1506.2L1325.5 1507.9L1326.6 1509.6L1327.7 1511.2L1328.9 1512.8L1330.1 1514.4L1331.3 1516.0L1332.6 1517.6L1333.9 1519.2L1335.3 1520.6L1336.7 1522.0L1338.1 1523.4L1339.6 1524.6L1341.2 1525.8L1342.9 1526.9L1344.6 1528.0L1346.3 1529.1L1348.1 1530.0L1349.9 1531.0L1351.7 1531.8L1353.5 1532.6L1355.4 1533.3L1357.2 1534.0L1359.1 1534.7L1361.0 1535.4L1363.0 1536.0L1364.9 1536.5L1366.8 1537.0L1368.8 1537.5L1370.7 1537.9L1372.7 1538.3L1374.6 1538.7L1376.6 1539.1L1378.6 1539.4L1380.6 1539.7L1382.6 1540.0L1384.5 1540.2L1386.5 1540.4L1388.5 1540.6L1390.5 1540.7L1392.5 1540.9L1394.5 1541.0L1396.5 1541.1L1398.5 1541.2L1400.5 1541.3L1402.5 1541.4L1404.5 1541.5L1406.5 1541.6L1408.5 1541.7L1410.5 1541.8L1412.5 1541.9L1414.5 1542.0L1416.5 1542.1L1418.5 1542.1L1420.5 1542.2L1422.5 1542.3L1424.5 1542.4L1426.5 1542.5L1428.5 1542.6L1430.5 1542.7L1432.5 1542.8L1434.5 1542.9L1436.5 1543.1L1438.5 1543.2L1440.5 1543.3L1442.4 1543.4L1444.4 1543.6L1446.4 1543.7L1448.4 1543.9L1450.4 1544.0L1452.4 1544.2L1454.4 1544.4L1456.4 1544.5L1458.4 1544.7L1460.4 1544.8L1462.4 1545.0L1464.4 1545.1L1466.4 1545.3L1468.4 1545.5L1470.4 1545.6L1472.4 1545.7L1474.4 1545.9L1476.4 1546.0L1478.3 1546.2L1480.3 1546.3L1482.3 1546.5L1484.3 1546.6L1486.3 1546.8L1488.3 1546.9L1490.3 1547.1L1492.3 1547.2L1494.3 1547.4L1496.3 1547.5L1498.3 1547.7L1500.3 1547.9L1502.3 1548.0L1504.3 1548.2L1506.3 1548.4L1508.3 1548.6L1510.2 1548.8L1512.2 1549.0L1514.2 1549.2L1516.2 1549.4L1518.2 1549.6L1520.2 1549.8L1522.2 1550.0L1524.2 1550.2L1526.2 1550.4L1528.2 1550.7L1530.1 1550.9L1532.1 1551.1L1534.1 1551.3L1536.1 1551.5L1538.1 1551.7L1540.1 1551.9L1542.1 1552.2L1544.1 1552.4L1546.0 1552.6L1548.0 1552.8L1550.0 1553.1L1552.0 1553.3L1554.0 1553.5L1556.0 1553.7L1558.0 1553.9L1560.0 1554.1L1562.0 1554.3L1564.0 1554.5L1565.9 1554.7L1567.9 1554.9L1569.9 1555.0L1571.9 1555.2L1573.9 1555.4L1575.9 1555.5L1577.9 1555.7L1579.9 1555.9L1581.9 1556.0L1583.9 1556.2L1585.9 1556.4L1587.9 1556.6L1589.9 1556.7L1591.9 1556.9L1593.8 1557.1L1595.8 1557.2L1597.8 1557.4L1599.8 1557.6L1601.8 1557.8L1603.8 1558.0L1605.8 1558.2L1607.8 1558.4L1609.8 1558.5L1611.8 1558.7L1613.8 1558.9L1615.8 1559.2L1617.8 1559.4L1619.7 1559.6L1621.7 1559.8L1623.7 1560.1L1625.7 1560.4L1627.6 1560.7L1629.6 1561.1L1631.6 1561.5L1633.5 1561.9L1635.4 1562.4L1637.4 1562.9L1639.3 1563.5L1641.2 1564.0L1643.2 1564.6L1645.1 1565.1L1647.0 1565.7L1649.0 1566.2L1650.9 1566.7L1652.8 1567.2L1654.8 1567.6L1656.7 1568.1L1658.7 1568.5L1660.6 1568.9L1662.6 1569.3L1664.6 1569.7L1666.5 1570.1L1668.5 1570.5L1670.5 1570.9L1672.4 1571.3L1674.4 1571.6L1676.3 1572.0L1678.3 1572.4L1680.3 1572.7L1682.2 1573.1L1684.2 1573.5L1686.2 1573.8L1688.1 1574.2L1690.1 1574.5L1692.1 1574.9L1694.1 1575.2L1696.0 1575.5L1698.0 1575.9L1700.0 1576.2L1702.0 1576.5L1703.9 1576.9L1705.9 1577.2L1707.9 1577.5L1709.8 1577.8L1711.8 1578.2L1713.8 1578.5L1715.8 1578.8L1717.7 1579.1L1719.7 1579.4L1721.7 1579.7L1723.7 1580.1L1725.7 1580.4L1727.6 1580.7L1729.6 1581.0L1731.6 1581.3L1733.6 1581.6L1735.5 1581.8L1737.5 1582.1L1739.5 1582.4L1741.5 1582.6L1743.5 1582.8L1745.5 1583.1L1747.5 1583.3L1749.4 1583.5L1751.4 1583.8L1753.4 1584.0L1755.4 1584.2L1757.4 1584.4L1759.4 1584.6L1761.4 1584.8L1763.4 1584.9L1765.4 1585.1L1767.4 1585.3L1769.4 1585.4L1771.3 1585.6L1773.3 1585.7L1775.3 1585.9L1777.3 1586.0L1779.3 1586.2L1781.3 1586.3L1783.3 1586.4L1785.3 1586.5L1787.3 1586.6L1789.3 1586.7L1791.3 1586.8L1793.3 1586.9L1795.3 1587.0L1797.3 1587.1L1799.3 1587.2L1801.3 1587.3L1803.3 1587.4L1805.3 1587.4L1807.3 1587.5L1809.3 1587.6L1811.3 1587.6L1813.3 1587.6L1815.3 1587.6L1817.3 1587.6L1819.3 1587.6L1821.3 1587.6L1823.3 1587.6L1825.3 1587.5L1827.3 1587.5L1829.3 1587.4L1831.3 1587.3L1833.3 1587.3L1835.3 1587.2L1837.3 1587.1L1839.3 1587.0L1841.3 1586.9L1843.3 1586.7L1845.3 1586.5L1847.3 1586.2L1849.2 1585.9L1851.2 1585.6L1853.2 1585.3L1855.2 1584.9L1857.1 1584.5L1859.1 1584.2L1861.1 1583.8L1863.0 1583.3L1865.0 1582.9L1866.9 1582.4L1868.8 1581.9L1870.8 1581.3L1872.7 1580.7L1874.6 1580.1L1876.5 1579.5L1878.4 1578.8L1880.2 1578.1L1882.1 1577.4L1883.9 1576.6L1885.8 1575.8L1887.6 1575.0L1889.4 1574.1L1891.2 1573.2L1893.0 1572.3L1894.7 1571.3L1896.5 1570.3L1898.2 1569.3L1899.9 1568.3L1901.7 1567.3L1903.3 1566.2L1905.0 1565.2L1906.7 1564.0L1908.3 1562.9L1910.0 1561.7L1911.6 1560.6L1913.2 1559.4L1914.8 1558.2L1916.4 1557.0L1918.0 1555.8L1919.6 1554.5L1921.2 1553.3L1922.7 1552.1L1924.3 1550.8L1925.8 1549.5L1927.4 1548.3L1928.9 1547.0L1930.5 1545.7L1932.1 1544.5L1933.6 1543.3L1935.2 1542.0L1936.8 1540.7L1938.4 1539.4L1940.0 1538.2L1941.6 1537.0L1943.2 1535.9L1944.9 1534.9L1946.6 1533.9L1948.4 1533.0L1950.2 1532.2L1952.1 1531.4L1954.0 1530.6L1955.9 1530.0L1957.9 1529.7L1959.8 1529.4L1961.8 1529.3L1963.8 1529.2L1965.8 1529.2L1967.8 1529.2L1969.8 1529.1L1971.8 1529.2L1973.8 1529.3L1975.8 1529.5L1977.8 1529.7L1979.8 1530.0L1981.8 1530.3L1983.8 1530.6L1985.7 1530.9L1987.7 1531.1L1989.7 1531.4L1991.7 1531.6L1993.7 1531.9L1995.7 1532.1L1997.7 1532.2L1999.7 1532.3L2001.7 1532.3L2003.7 1532.3L2005.7 1532.3L2007.7 1532.2L2009.7 1532.1L2011.7 1532.0L2013.7 1531.9L2015.6 1531.7L2017.6 1531.5L2019.6 1531.1L2021.6 1530.7L2023.5 1530.2L2025.5 1529.7L2027.4 1529.1L2029.3 1528.5L2031.2 1527.8L2033.0 1527.1L2034.9 1526.3L2036.7 1525.5L2038.5 1524.6L2040.3 1523.7L2042.1 1522.7L2043.8 1521.7L2045.5 1520.7L2047.1 1519.6L2048.7 1518.4L2050.3 1517.1L2051.9 1515.9L2053.4 1514.6L2055.0 1513.3L2056.6 1512.1L2058.2 1510.9L2059.8 1509.7L2061.5 1508.6L2063.2 1507.5L2064.9 1506.4L2066.6 1505.3L2068.4 1504.4L2070.2 1503.6L2072.0 1503.0L2073.9 1502.4L2075.9 1501.9L2077.9 1501.5L2079.8 1501.2L2081.8 1501.0L2083.8 1500.9L2085.8 1500.9L2087.8 1500.9L2089.8 1501.0L2091.8 1501.1L2093.8 1501.2L2095.8 1501.3L2097.8 1501.6L2099.7 1502.1L2101.7 1502.6L2103.6 1503.1L2105.5 1503.7L2107.5 1504.2L2109.3 1504.8L2111.2 1505.4L2111.8 1505.6" fill="none" stroke="#8000ff" stroke-width="11.0" stroke-linecap="round" stroke-linejoin="round"/>
<path d="M193.7 1297.8L195.4 1298.9L197.1 1299.9L198.9 1300.8L200.7 1301.6L202.6 1302.3L204.5 1302.9L206.4 1303.4L208.4 1303.7L210.4 1303.7L212.4 1303.6L214.4 1303.4L216.3 1303.0L218.1 1302.4L219.9 1301.5L221.5 1300.2L223.0 1298.8L224.5 1297.4L225.8 1295.9L227.0 1294.3L228.1 1292.7L229.2 1291.0L230.3 1289.3L231.4 1287.6L232.6 1285.9L233.7 1284.2L234.8 1282.5L236.0 1280.8L237.1 1279.2L238.4 1277.6L239.7 1276.2L241.2 1274.9L242.8 1273.6L244.6 1272.5L246.4 1271.7L248.2 1271.6L249.9 1272.0L251.7 1273.0L253.4 1274.3L254.9 1275.6L256.3 1277.0L257.5 1278.5L258.7 1280.2L259.9 1281.8L261.0 1283.5L262.2 1285.2L263.4 1286.8L264.7 1288.4L265.9 1289.9L267.2 1291.5L268.5 1293.0L269.9 1294.4L271.3 1295.8L272.8 1297.2L274.3 1298.5L275.9 1299.8L277.5 1301.0L279.1 1302.1L280.8 1303.0L282.6 1303.9L284.4 1304.8L286.2 1305.6L288.1 1306.3L290.0 1307.1L291.9 1307.8L293.7 1308.6L295.6 1309.4L297.4 1310.1L299.3 1310.8L301.1 1311.6L303.0 1312.3L304.9 1313.0L306.7 1313.8L308.6 1314.5L310.5 1315.3L312.3 1316.0L314.2 1316.8L315.9 1317.7L317.6 1318.7L319.3 1319.8L320.8 1321.1L322.4 1322.3L324.0 1323.6L325.6 1324.8L327.2 1325.9L328.9 1327.0L330.7 1328.0L332.4 1329.0L334.2 1329.9L336.0 1330.7L337.9 1331.5L339.7 1332.2L341.6 1332.8L343.6 1333.4L345.5 1333.9L347.4 1334.4L349.4 1334.8L351.4 1335.1L353.4 1335.4L355.4 1335.7L357.3 1336.1L359.2 1336.6L361.0 1337.4L362.8 1338.2L364.6 1339.2L366.3 1340.2L368.0 1341.3L369.7 1342.4L371.4 1343.6L373.0 1344.7L374.7 1345.8L376.4 1346.8L378.2 1347.6L380.0 1348.3L381.9 1349.0L383.9 1349.6L385.8 1350.2L387.7 1350.8L389.6 1351.5L391.4 1352.2L393.3 1353.1L395.1 1353.9L396.9 1354.9L398.7 1355.7L400.5 1356.6L402.3 1357.3L404.2 1357.9L406.1 1358.5L408.0 1359.1L410.0 1359.6L411.9 1360.0L413.9 1360.5L415.9 1360.8L417.8 1361.2L419.8 1361.4L421.8 1361.6L423.8 1361.9L425.8 1362.1L427.8 1362.2L429.8 1362.4L431.8 1362.5L433.8 1362.6L435.8 1362.6L437.8 1362.6L439.8 1362.5L441.8 1362.4L443.8 1362.2L445.7 1362.1L447.7 1361.9L449.7 1361.7L451.7 1361.5L453.7 1361.3L455.7 1361.0L457.7 1360.8L459.7 1360.6L461.7 1360.3L463.6 1360.0L465.6 1359.7L467.6 1359.5L469.6 1359.2L471.6 1359.0L473.6 1358.7L475.5 1358.5L477.5 1358.3L479.5 1358.1L481.5 1357.8L483.5 1357.6L485.5 1357.4L487.5 1357.2L489.5 1356.9L491.4 1356.7L493.4 1356.4L495.4 1356.2L497.4 1355.9L499.4 1355.7L501.4 1355.4L503.4 1355.1L505.3 1354.8L507.3 1354.4L509.2 1354.0L511.2 1353.6L513.1 1353.1L515.1 1352.5L517.0 1351.9L518.9 1351.2L520.7 1350.5L522.6 1349.7L524.4 1348.9L526.2 1347.9L527.9 1346.8L529.6 1345.6L531.1 1344.4L532.5 1343.1L533.7 1341.6L534.9 1340.0L536.1 1338.4L537.1 1336.6L538.2 1334.8L539.1 1333.1L540.1 1331.3L541.0 1329.5L541.8 1327.7L542.6 1325.9L543.4 1324.0L544.2 1322.2L545.0 1320.4L545.9 1318.5L546.7 1316.7L547.5 1314.8L548.3 1312.8L549.1 1311.0L550.1 1309.2L551.2 1307.7L552.5 1306.3L554.1 1305.1L555.9 1304.3L557.7 1304.3L559.3 1305.2L560.9 1306.5L562.3 1308.1L563.4 1309.6L564.4 1311.3L565.4 1313.1L566.3 1315.0L567.1 1316.8L568.1 1318.6L569.0 1320.4L569.9 1322.2L570.8 1324.0L571.7 1325.8L572.7 1327.6L573.6 1329.3L574.7 1331.0L575.8 1332.6L576.9 1334.3L578.2 1335.9L579.5 1337.4L580.8 1338.9L582.3 1340.3L583.7 1341.7L585.3 1343.0L587.0 1344.0L588.8 1344.7L590.7 1345.0L592.7 1345.2L594.7 1345.4L596.7 1345.4L598.7 1345.5L600.8 1345.5L602.8 1345.5L604.8 1345.6L606.8 1345.6L608.7 1345.7L610.6 1346.0L612.4 1346.6L614.3 1347.6L616.1 1348.6L617.9 1349.5L619.7 1350.3L621.6 1351.0L623.5 1351.7L625.4 1352.1L627.4 1352.5L629.4 1352.7L631.4 1352.8L633.4 1352.9L635.4 1352.8L637.3 1352.5L639.3 1352.1L641.2 1351.5L643.1 1350.9L645.0 1350.1L646.8 1349.3L648.6 1348.5L650.4 1347.6L652.3 1346.8L654.1 1346.1L656.0 1345.4L657.9 1344.7L659.8 1344.1L661.7 1343.5L663.7 1343.0L665.6 1342.5L667.5 1341.9L669.3 1341.2L671.2 1340.3L673.0 1339.4L674.7 1338.4L676.3 1337.2L677.8 1336.0L679.3 1334.7L680.7 1333.2L682.0 1331.7L683.4 1330.2L684.7 1328.7L686.1 1327.2L687.4 1325.7L688.8 1324.1L690.1 1322.6L691.5 1321.2L693.0 1320.0L694.6 1318.8L696.4 1317.8L698.2 1317.0L700.1 1316.6L702.0 1316.7L704.0 1317.2L705.9 1317.9L707.7 1318.7L709.4 1319.7L711.0 1320.9L712.5 1322.3L714.1 1323.6L715.7 1324.8L717.4 1325.7L719.3 1326.5L721.2 1326.9L723.1 1326.9L725.0 1326.5L726.9 1325.7L728.7 1324.8L730.5 1323.9L732.3 1322.8L734.0 1321.8L735.8 1321.0L737.7 1320.5L739.6 1320.2L741.6 1320.0L743.6 1319.9L745.6 1319.9L747.6 1320.0L749.6 1320.2L751.6 1320.4L753.6 1320.5L755.6 1320.4L757.6 1320.1L759.5 1319.6L761.5 1319.1L763.4 1318.4L765.2 1317.7L767.0 1316.8L768.7 1315.9L770.5 1314.8L772.2 1313.8L773.9 1312.7L775.6 1311.7L777.4 1310.7L779.1 1309.7L780.9 1308.7L782.6 1307.7L784.3 1306.6L785.9 1305.5L787.6 1304.4L789.2 1303.3L790.8 1302.1L792.4 1300.9L794.0 1299.6L795.5 1298.3L797.1 1297.0L798.6 1295.7L800.1 1294.4L801.5 1293.1L803.0 1291.7L804.5 1290.3L805.9 1288.9L807.3 1287.5L808.7 1286.1L810.1 1284.6L811.5 1283.2L812.8 1281.7L814.2 1280.2L815.5 1278.7L816.8 1277.2L818.1 1275.7L819.4 1274.2L820.7 1272.7L822.0 1271.1L823.2 1269.5L824.5 1268.0L825.7 1266.4L826.9 1264.8L828.1 1263.2L829.3 1261.6L830.5 1260.0L831.6 1258.3L832.8 1256.7L833.9 1255.0L835.0 1253.4L836.1 1251.7L837.2 1250.0L838.3 1248.3L839.3 1246.6L840.4 1244.9L841.4 1243.2L842.4 1241.5L843.4 1239.8L844.4 1238.0L845.4 1236.3L846.3 1234.5L847.3 1232.8L848.2 1231.0L849.1 1229.2L850.0 1227.4L850.9 1225.6L851.8 1223.8L852.6 1222.0L853.5 1220.2L854.3 1218.4L855.1 1216.6L855.9 1214.7L856.7 1212.9L857.5 1211.1L858.3 1209.2L859.1 1207.4L859.8 1205.5L860.6 1203.7L861.4 1201.8L862.1 1200.0L862.9 1198.1L863.6 1196.3L864.3 1194.4L865.1 1192.5L865.8 1190.7L866.5 1188.8L867.2 1186.9L867.9 1185.0L868.6 1183.2L869.3 1181.3L869.9 1179.4L870.6 1177.5L871.3 1175.6L871.9 1173.7L872.6 1171.8L873.2 1170.0L873.8 1168.1L874.4 1166.2L875.1 1164.3L875.7 1162.3L876.3 1160.4L876.9 1158.5L877.5 1156.6L878.1 1154.7L878.6 1152.8L879.2 1150.9L879.8 1149.0L880.3 1147.0L880.9 1145.1L881.5 1143.2L882.0 1141.3L882.6 1139.4L883.1 1137.4L883.6 1135.5L884.2 1133.6L884.7 1131.6L885.2 1129.7L885.7 1127.8L886.3 1125.8L886.8 1123.9L887.3 1122.0L887.7 1120.0L888.2 1118.1L888.7 1116.2L889.2 1114.2L889.6 1112.3L890.1 1110.3L890.5 1108.4L891.0 1106.4L891.4 1104.5L891.9 1102.5L892.3 1100.6L892.7 1098.6L893.2 1096.7L893.6 1094.7L894.0 1092.7L894.4 1090.8L894.9 1088.8L895.3 1086.9L895.7 1084.9L896.1 1083.0L896.5 1081.0L897.0 1079.1L897.4 1077.1L897.8 1075.1L898.2 1073.2L898.6 1071.2L899.0 1069.3L899.4 1067.3L899.8 1065.3L900.2 1063.4L900.6 1061.4L901.0 1059.5L901.4 1057.5L901.8 1055.5L902.2 1053.6L902.5 1051.6L902.9 1049.7L903.3 1047.7L903.7 1045.7L904.1 1043.8L904.4 1041.8L904.8 1039.8L905.2 1037.9L905.6 1035.9L905.9 1033.9L906.3 1032.0L906.7 1030.0L907.0 1028.0L907.4 1026.1L907.8 1024.1L908.2 1022.2L908.6 1020.2L908.9 1018.2L909.3 1016.3L909.7 1014.3L910.1 1012.3L910.4 1010.4L910.8 1008.4L911.2 1006.4L911.6 1004.5L912.0 1002.5L912.3 1000.5L912.7 998.6L913.1 996.6L913.5 994.7L913.8 992.7L914.2 990.7L914.6 988.8L915.0 986.8L915.4 984.8L915.7 982.9L916.1 980.9L916.5 978.9L916.8 977.0L917.2 975.0L917.6 973.0L918.0 971.1L918.3 969.1L918.7 967.2L919.1 965.2L919.5 963.2L919.9 961.3L920.2 959.3L920.6 957.3L921.0 955.4L921.4 953.4L921.8 951.5L922.2 949.5L922.6 947.5L923.0 945.6L923.4 943.6L923.8 941.6L924.2 939.7L924.6 937.7L925.0 935.8L925.4 933.8L925.8 931.9L926.2 929.9L926.7 927.9L927.1 926.0L927.6 924.0L928.0 922.1L928.4 920.1L928.9 918.2L929.3 916.2L929.8 914.3L930.3 912.3L930.7 910.4L931.2 908.4L931.7 906.5L932.2 904.6L932.7 902.6L933.3 900.7L933.8 898.8L934.4 896.9L935.0 895.0L935.6 893.1L936.2 891.2L936.9 889.2L937.5 887.3L938.2 885.5L939.0 883.6L939.7 881.7L940.5 879.9L941.4 878.1L942.2 876.3L943.1 874.5L944.1 872.7L945.2 870.8L946.3 869.1L947.5 867.5L948.7 866.1L950.2 864.8L951.8 863.7L953.6 862.7L955.5 861.8L957.4 861.3L959.2 861.3L961.1 861.8L962.9 862.8L964.6 864.1L966.1 865.5L967.4 866.9L968.5 868.4L969.5 870.1L970.4 871.9L971.3 873.8L972.1 875.7L972.8 877.6L973.6 879.5L974.3 881.4L974.9 883.3L975.6 885.2L976.2 887.1L976.8 889.0L977.4 890.9L977.9 892.8L978.5 894.8L979.0 896.7L979.6 898.6L980.1 900.6L980.6 902.5L981.2 904.4L981.7 906.3L982.2 908.3L982.7 910.2L983.2 912.2L983.6 914.1L984.1 916.0L984.6 918.0L985.1 919.9L985.5 921.9L986.0 923.8L986.4 925.8L986.9 927.7L987.3 929.7L987.8 931.6L988.2 933.6L988.6 935.5L989.0 937.5L989.4 939.4L989.9 941.4L990.3 943.4L990.7 945.3L991.1 947.3L991.5 949.2L991.9 951.2L992.3 953.2L992.7 955.1L993.1 957.1L993.6 959.0L994.0 961.0L994.4 962.9L994.8 964.9L995.3 966.8L995.7 968.8L996.2 970.7L996.6 972.7L997.0 974.6L997.5 976.6L997.9 978.5L998.4 980.5L998.8 982.4L999.3 984.4L999.7 986.3L1000.2 988.3L1000.7 990.2L1001.1 992.2L1001.6 994.1L1002.0 996.1L1002.5 998.0L1003.0 1000.0L1003.4 1001.9L1003.9 1003.8L1004.4 1005.8L1004.9 1007.7L1005.3 1009.7L1005.8 1011.6L1006.3 1013.6L1006.8 1015.5L1007.3 1017.4L1007.8 1019.4L1008.3 1021.3L1008.8 1023.2L1009.3 1025.2L1009.8 1027.1L1010.3 1029.1L1010.8 1031.0L1011.3 1032.9L1011.8 1034.9L1012.3 1036.8L1012.8 1038.7L1013.3 1040.7L1013.8 1042.6L1014.3 1044.5L1014.9 1046.5L1015.4 1048.4L1015.9 1050.3L1016.5 1052.2L1017.0 1054.2L1017.6 1056.1L1018.2 1058.0L1018.7 1059.9L1019.3 1061.8L1019.9 1063.7L1020.6 1065.6L1021.2 1067.5L1021.8 1069.4L1022.5 1071.3L1023.1 1073.2L1023.8 1075.1L1024.4 1077.0L1025.1 1078.9L1025.7 1080.8L1026.4 1082.7L1027.1 1084.5L1027.7 1086.4L1028.4 1088.3L1029.1 1090.2L1029.8 1092.1L1030.5 1093.9L1031.2 1095.8L1031.9 1097.7L1032.7 1099.5L1033.4 1101.4L1034.2 1103.2L1035.0 1105.1L1035.7 1106.9L1036.5 1108.8L1037.4 1110.6L1038.2 1112.4L1039.0 1114.2L1039.9 1116.0L1040.8 1117.8L1041.7 1119.6L1042.7 1121.3L1043.7 1123.1L1044.7 1124.8L1045.8 1126.5L1046.9 1128.2L1048.0 1129.9L1049.1 1131.5L1050.3 1133.1L1051.5 1134.7L1052.7 1136.3L1054.0 1137.8L1055.3 1139.3L1056.7 1140.8L1058.0 1142.2L1059.4 1143.7L1060.7 1145.2L1062.1 1146.7L1063.4 1148.2L1064.8 1149.7L1066.1 1151.2L1067.4 1152.7L1068.7 1154.2L1069.8 1155.8L1070.9 1157.5L1072.0 1159.2L1073.0 1160.9L1073.9 1162.7L1074.9 1164.4L1075.9 1166.2L1076.8 1168.0L1077.8 1169.7L1078.9 1171.4L1079.9 1173.1L1081.0 1174.8L1082.1 1176.5L1083.2 1178.2L1084.3 1179.8L1085.4 1181.5L1086.5 1183.1L1087.7 1184.8L1088.9 1186.4L1090.1 1188.0L1091.3 1189.6L1092.5 1191.1L1093.8 1192.7L1095.1 1194.3L1096.4 1195.8L1097.7 1197.3L1099.0 1198.7L1100.4 1200.2L1101.8 1201.6L1103.3 1202.9L1104.8 1204.3L1106.3 1205.6L1107.9 1206.9L1109.4 1208.1L1111.0 1209.3L1112.6 1210.5L1114.2 1211.7L1115.9 1212.8L1117.6 1213.9L1119.3 1215.0L1121.0 1216.0L1122.7 1217.0L1124.5 1218.0L1126.3 1218.9L1128.1 1219.8L1129.9 1220.6L1131.7 1221.4L1133.6 1222.1L1135.4 1222.9L1137.3 1223.6L1139.2 1224.2L1141.2 1224.7L1143.1 1225.2L1145.1 1225.5L1147.0 1225.8L1149.0 1226.0L1151.0 1226.2L1153.0 1226.4L1155.0 1226.5L1157.0 1226.5L1159.0 1226.4L1161.0 1226.2L1163.0 1226.0L1165.0 1225.6L1167.0 1225.3L1168.9 1224.8L1170.8 1224.3L1172.6 1223.6L1174.5 1222.8L1176.3 1221.8L1178.0 1220.8L1179.7 1219.7L1181.4 1218.7L1183.1 1217.5L1184.7 1216.4L1186.3 1215.2L1187.8 1213.9L1189.4 1212.6L1190.9 1211.2L1192.3 1209.9L1193.7 1208.5L1195.1 1207.0L1196.5 1205.6L1197.8 1204.1L1199.1 1202.5L1200.4 1201.0L1201.6 1199.4L1202.9 1197.8L1204.1 1196.2L1205.2 1194.6L1206.4 1193.0L1207.5 1191.3L1208.6 1189.7L1209.7 1188.0L1210.8 1186.3L1211.8 1184.6L1212.8 1182.8L1213.8 1181.1L1214.8 1179.4L1215.7 1177.6L1216.7 1175.8L1217.6 1174.0L1218.5 1172.3L1219.4 1170.4L1220.2 1168.6L1221.0 1166.8L1221.8 1165.0L1222.6 1163.1L1223.3 1161.3L1224.1 1159.4L1224.8 1157.6L1225.5 1155.7L1226.2 1153.8L1226.8 1151.9L1227.5 1150.0L1228.1 1148.1L1228.7 1146.2L1229.3 1144.3L1229.9 1142.4L1230.4 1140.5L1231.0 1138.5L1231.5 1136.6L1232.0 1134.7L1232.6 1132.7L1233.1 1130.8L1233.5 1128.9L1234.0 1126.9L1234.5 1125.0L1234.9 1123.0L1235.4 1121.1L1235.8 1119.1L1236.2 1117.2L1236.7 1115.2L1237.1 1113.3L1237.5 1111.3L1237.9 1109.3L1238.2 1107.4L1238.6 1105.4L1239.0 1103.4L1239.3 1101.5L1239.7 1099.5L1240.0 1097.5L1240.4 1095.6L1240.7 1093.6L1241.0 1091.6L1241.4 1089.6L1241.7 1087.7L1242.0 1085.7L1242.3 1083.7L1242.6 1081.7L1242.9 1079.7L1243.1 1077.8L1243.4 1075.8L1243.7 1073.8L1243.9 1071.8L1244.2 1069.8L1244.4 1067.9L1244.7 1065.9L1245.0 1063.9L1245.2 1061.9L1245.5 1059.9L1245.8 1057.9L1246.0 1056.0L1246.3 1054.0L1246.6 1052.0L1246.8 1050.0L1247.1 1048.0L1247.4 1046.0L1247.6 1044.1L1247.9 1042.1L1248.2 1040.1L1248.5 1038.1L1248.7 1036.1L1249.0 1034.2L1249.3 1032.2L1249.5 1030.2L1249.8 1028.2L1250.1 1026.2L1250.3 1024.2L1250.6 1022.3L1250.9 1020.3L1251.2 1018.3L1251.4 1016.3L1251.7 1014.3L1252.0 1012.4L1252.2 1010.4L1252.5 1008.4L1252.8 1006.4L1253.0 1004.4L1253.3 1002.4L1253.6 1000.5L1253.9 998.5L1254.1 996.5L1254.4 994.5L1254.6 992.5L1254.9 990.6L1255.2 988.6L1255.4 986.6L1255.7 984.6L1256.0 982.6L1256.2 980.6L1256.5 978.7L1256.8 976.7L1257.1 974.7L1257.4 972.7L1257.6 970.7L1257.9 968.8L1258.2 966.8L1258.6 964.8L1258.9 962.8L1259.2 960.9L1259.5 958.9L1259.8 956.9L1260.1 954.9L1260.5 953.0L1260.8 951.0L1261.1 949.0L1261.5 947.1L1261.8 945.1L1262.2 943.1L1262.5 941.1L1262.9 939.2L1263.2 937.2L1263.5 935.2L1263.9 933.3L1264.2 931.3L1264.6 929.3L1265.0 927.3L1265.4 925.4L1265.8 923.4L1266.2 921.5L1266.6 919.5L1267.0 917.6L1267.5 915.6L1267.9 913.6L1268.4 911.6L1268.9 909.7L1269.4 907.7L1270.0 905.8L1270.6 903.9L1271.3 902.1L1272.1 900.3L1273.0 898.5L1274.1 896.7L1275.4 895.1L1276.8 893.8L1278.5 892.9L1280.4 892.4L1282.3 892.5L1284.0 893.3L1285.5 894.6L1286.6 896.2L1287.5 897.9L1288.2 899.7L1288.8 901.7L1289.3 903.7L1289.8 905.7L1290.3 907.7L1290.7 909.7L1291.1 911.6L1291.6 913.6L1291.9 915.6L1292.3 917.5L1292.7 919.5L1293.0 921.5L1293.4 923.4L1293.7 925.4L1294.0 927.4L1294.3 929.4L1294.7 931.3L1295.0 933.3L1295.3 935.3L1295.6 937.3L1295.9 939.2L1296.2 941.2L1296.5 943.2L1296.8 945.2L1297.0 947.2L1297.3 949.1L1297.6 951.1L1297.9 953.1L1298.2 955.1L1298.5 957.1L1298.8 959.0L1299.1 961.0L1299.4 963.0L1299.7 965.0L1300.0 966.9L1300.2 968.9L1300.5 970.9L1300.8 972.9L1301.1 974.9L1301.4 976.8L1301.7 978.8L1302.0 980.8L1302.4 982.8L1302.7 984.7L1303.0 986.7L1303.3 988.7L1303.6 990.7L1303.9 992.6L1304.3 994.6L1304.6 996.6L1304.9 998.6L1305.3 1000.5L1305.6 1002.5L1306.0 1004.5L1306.3 1006.4L1306.7 1008.4L1307.1 1010.4L1307.4 1012.3L1307.8 1014.3L1308.2 1016.3L1308.6 1018.2L1309.0 1020.2L1309.4 1022.2L1309.8 1024.1L1310.2 1026.1L1310.6 1028.0L1311.0 1030.0L1311.4 1031.9L1311.9 1033.9L1312.3 1035.8L1312.8 1037.8L1313.2 1039.7L1313.7 1041.7L1314.2 1043.6L1314.7 1045.6L1315.2 1047.5L1315.7 1049.4L1316.3 1051.4L1316.8 1053.3L1317.4 1055.2L1318.1 1057.1L1318.7 1059.0L1319.5 1060.8L1320.2 1062.7L1321.0 1064.6L1321.7 1066.4L1322.6 1068.2L1323.5 1070.0L1324.4 1071.7L1325.4 1073.5L1326.4 1075.2L1327.5 1076.9L1328.6 1078.6L1329.8 1080.2L1331.0 1081.8L1332.3 1083.3L1333.6 1084.8L1334.9 1086.3L1336.2 1087.8L1337.5 1089.3L1338.8 1090.9L1340.0 1092.5L1341.1 1094.1L1342.3 1095.8L1343.4 1097.4L1344.5 1099.1L1345.5 1100.8L1346.5 1102.6L1347.4 1104.3L1348.4 1106.1L1349.3 1107.9L1350.2 1109.7L1351.2 1111.4L1352.1 1113.2L1353.1 1114.9L1354.1 1116.6L1355.1 1118.4L1356.1 1120.1L1357.2 1121.8L1358.2 1123.5L1359.3 1125.2L1360.4 1126.9L1361.5 1128.5L1362.7 1130.1L1363.9 1131.8L1365.1 1133.4L1366.4 1134.9L1367.6 1136.4L1369.0 1137.9L1370.3 1139.4L1371.7 1140.8L1373.2 1142.2L1374.6 1143.6L1376.1 1145.0L1377.5 1146.4L1378.9 1147.9L1380.2 1149.3L1381.6 1150.8L1383.1 1152.2L1384.6 1153.5L1386.2 1154.8L1387.9 1156.0L1389.6 1157.1L1391.4 1157.8L1393.2 1158.0L1395.2 1157.7L1397.1 1157.1L1398.9 1156.1L1400.5 1155.1L1402.0 1153.9L1403.2 1152.4L1404.4 1150.7L1405.5 1148.9L1406.6 1147.1L1407.6 1145.4L1408.5 1143.6L1409.4 1141.8L1410.3 1140.0L1411.2 1138.2L1412.0 1136.4L1412.9 1134.6L1413.8 1132.8L1414.7 1131.0L1415.6 1129.2L1416.6 1127.5L1417.5 1125.7L1418.5 1123.9L1419.6 1122.3L1420.7 1120.6L1421.9 1118.9L1423.2 1117.4L1424.7 1116.0L1426.3 1115.1L1428.1 1114.4L1430.1 1114.2L1432.0 1114.5L1433.8 1115.4L1435.4 1116.5L1436.8 1117.9L1438.0 1119.4L1439.0 1121.0L1439.9 1122.9L1440.8 1124.8L1441.7 1126.7L1442.5 1128.5L1443.4 1130.4L1444.2 1132.2L1445.0 1134.0L1445.7 1135.9L1446.5 1137.7L1447.2 1139.6L1447.9 1141.5L1448.7 1143.3L1449.5 1145.1L1450.3 1147.0L1451.1 1148.8L1451.9 1150.6L1452.8 1152.5L1453.6 1154.3L1454.4 1156.1L1455.3 1157.9L1456.2 1159.7L1457.0 1161.5L1457.9 1163.3L1458.8 1165.1L1459.7 1166.9L1460.7 1168.7L1461.6 1170.4L1462.6 1172.2L1463.6 1173.9L1464.7 1175.6L1465.8 1177.2L1467.0 1178.8L1468.3 1180.4L1469.6 1181.9L1470.9 1183.4L1472.4 1184.8L1473.8 1186.1L1475.4 1187.4L1476.9 1188.7L1478.6 1189.9L1480.3 1190.9L1482.1 1191.8L1483.9 1192.6L1485.8 1193.3L1487.7 1193.9L1489.7 1194.3L1491.6 1194.3L1493.6 1194.0L1495.5 1193.4L1497.4 1192.5L1499.1 1191.4L1500.7 1190.3L1502.1 1189.0L1503.4 1187.6L1504.6 1186.0L1505.7 1184.2L1506.8 1182.5L1507.9 1180.7L1509.0 1179.0L1510.1 1177.3L1511.1 1175.6L1512.1 1173.9L1513.1 1172.2L1514.2 1170.5L1515.2 1168.7L1516.2 1167.0L1517.2 1165.2L1518.2 1163.4L1519.2 1161.6L1520.2 1159.9L1521.3 1158.3L1522.6 1156.8L1524.0 1155.4L1525.7 1154.2L1527.5 1153.2L1529.3 1152.8L1531.1 1153.1L1532.9 1154.0L1534.5 1155.3L1536.0 1156.6L1537.2 1158.1L1538.3 1159.7L1539.2 1161.5L1540.1 1163.3L1541.0 1165.2L1541.9 1167.1L1542.8 1168.9L1543.7 1170.7L1544.6 1172.5L1545.4 1174.3L1546.3 1176.1L1547.2 1177.9L1548.1 1179.7L1549.1 1181.5L1550.1 1183.3L1551.1 1185.3L1552.2 1187.4L1553.3 1189.5L1554.4 1191.5L1555.6 1193.2L1556.9 1194.6L1558.2 1195.6L1559.7 1196.1L1561.5 1196.0L1563.4 1195.7L1565.3 1195.1L1567.1 1194.3L1568.8 1193.2L1570.3 1191.8L1571.7 1190.3L1572.9 1188.6L1574.0 1187.0L1574.9 1185.3L1575.8 1183.5L1576.6 1181.7L1577.3 1179.8L1578.1 1177.9L1578.8 1176.0L1579.5 1174.1L1580.1 1172.2L1580.8 1170.3L1581.4 1168.4L1582.0 1166.5L1582.6 1164.6L1583.2 1162.7L1583.9 1160.8L1584.5 1158.9L1585.2 1157.0L1585.9 1155.1L1586.7 1153.2L1587.5 1151.4L1588.3 1149.6L1589.3 1147.8L1590.4 1146.1L1591.7 1144.5L1593.2 1143.3L1595.0 1142.7L1596.9 1142.4L1598.8 1142.8L1600.5 1143.7L1601.9 1145.1L1603.1 1146.6L1604.0 1148.3L1604.9 1150.2L1605.6 1152.1L1606.4 1154.0L1607.0 1155.9L1607.7 1157.8L1608.3 1159.7L1608.9 1161.6L1609.5 1163.6L1610.0 1165.5L1610.5 1167.4L1611.1 1169.4L1611.7 1171.3L1612.2 1173.2L1612.8 1175.1L1613.4 1177.0L1614.1 1178.9L1614.7 1180.8L1615.3 1182.7L1616.0 1184.6L1616.6 1186.5L1617.3 1188.4L1618.1 1190.2L1618.8 1192.1L1619.6 1194.0L1620.4 1195.8L1621.2 1197.6L1622.1 1199.4L1623.0 1201.2L1623.9 1202.9L1624.9 1204.7L1626.0 1206.4L1627.1 1208.1L1628.3 1209.7L1629.6 1211.2L1630.9 1212.6L1632.4 1214.0L1633.9 1215.4L1635.5 1216.6L1637.1 1217.7L1638.9 1218.8L1640.7 1219.7L1642.5 1220.4L1644.4 1220.9L1646.4 1221.2L1648.4 1221.4L1650.4 1221.3L1652.3 1220.8L1654.2 1220.1L1656.0 1219.3L1657.7 1218.3L1659.3 1217.0L1660.8 1215.7L1662.2 1214.2L1663.6 1212.8L1664.9 1211.3L1666.1 1209.7L1667.3 1208.1L1668.5 1206.5L1669.7 1204.9L1670.9 1203.3L1672.1 1201.7L1673.3 1200.0L1674.4 1198.4L1675.6 1196.8L1676.8 1195.2L1678.0 1193.6L1679.2 1192.0L1680.4 1190.4L1681.8 1188.9L1683.1 1187.4L1684.6 1186.0L1686.2 1184.8L1687.9 1183.9L1689.8 1183.3L1691.7 1183.1L1693.7 1183.3L1695.6 1183.9L1697.4 1184.8L1699.0 1185.8L1700.4 1187.2L1701.8 1188.7L1703.0 1190.4L1704.2 1192.0L1705.3 1193.7L1706.3 1195.4L1707.3 1197.1L1708.3 1198.9L1709.2 1200.7L1710.1 1202.4L1711.1 1204.2L1711.9 1206.0L1712.8 1207.8L1713.7 1209.6L1714.6 1211.4L1715.5 1213.2L1716.5 1214.9L1717.4 1216.7L1718.4 1218.4L1719.5 1220.1L1720.5 1221.8L1721.6 1223.5L1722.7 1225.2L1723.8 1226.9L1725.0 1228.5L1726.2 1230.1L1727.4 1231.7L1728.8 1233.1L1730.1 1234.6L1731.6 1236.0L1733.1 1237.3L1734.6 1238.6L1736.2 1239.8L1737.9 1240.9L1739.5 1242.0L1741.2 1243.1L1743.0 1244.0L1744.8 1245.0L1746.6 1245.8L1748.4 1246.6L1750.3 1247.4L1752.1 1248.1L1754.0 1248.8L1755.9 1249.6L1757.7 1250.3L1759.6 1251.0L1761.5 1251.8L1763.3 1252.6L1765.0 1253.5L1766.6 1254.6L1768.2 1255.9L1769.7 1257.2L1771.2 1258.6L1772.7 1259.9L1774.2 1261.2L1775.7 1262.5L1777.3 1263.8L1778.9 1265.0L1780.4 1266.3L1782.0 1267.5L1783.5 1268.8L1785.1 1270.1L1786.6 1271.3L1788.2 1272.6L1789.7 1273.9L1791.2 1275.2L1792.8 1276.5L1794.3 1277.7L1795.9 1279.0L1797.5 1280.2L1799.1 1281.3L1800.7 1282.5L1802.4 1283.7L1804.0 1284.8L1805.7 1285.9L1807.4 1287.0L1809.1 1288.0L1810.8 1289.0L1812.5 1290.0L1814.3 1290.9L1816.1 1291.9L1817.9 1292.7L1819.7 1293.6L1821.6 1294.4L1823.4 1295.1L1825.3 1295.8L1827.2 1296.4L1829.1 1297.0L1831.0 1297.6L1833.0 1298.1L1834.9 1298.6L1836.9 1299.0L1838.8 1299.3L1840.8 1299.6L1842.8 1299.9L1844.8 1300.2L1846.8 1300.4L1848.7 1300.6L1850.7 1300.8L1852.7 1301.0L1854.7 1301.2L1856.7 1301.4L1858.7 1301.4L1860.7 1301.5L1862.7 1301.5L1864.7 1301.5L1866.7 1301.5L1868.7 1301.5L1870.7 1301.5L1872.7 1301.5L1874.7 1301.4L1876.7 1301.2L1878.7 1300.8L1880.6 1300.4L1882.6 1300.0L1884.5 1299.5L1886.4 1298.9L1888.4 1298.4L1890.3 1297.9L1892.3 1297.4L1894.2 1296.9L1896.2 1296.5L1898.2 1296.3L1900.1 1296.2L1902.1 1296.2L1904.1 1296.2L1906.1 1296.4L1908.1 1296.7L1910.0 1297.2L1911.9 1297.9L1913.7 1298.8L1915.4 1299.8L1917.1 1300.9L1918.8 1302.0L1920.4 1303.1L1922.1 1304.3L1923.7 1305.4L1925.4 1306.5L1927.1 1307.6L1928.8 1308.7L1930.4 1309.8L1932.1 1310.8L1933.9 1311.9L1935.6 1312.9L1937.3 1313.8L1939.1 1314.7L1940.9 1315.6L1942.8 1316.4L1944.6 1317.1L1946.5 1317.8L1948.4 1318.4L1950.4 1318.9L1952.3 1319.3L1954.3 1319.7L1956.2 1320.0L1958.2 1320.3L1960.2 1320.6L1962.2 1320.8L1964.2 1321.0L1966.2 1321.1L1968.2 1321.3L1970.2 1321.4L1972.2 1321.5L1974.2 1321.5L1976.2 1321.5L1978.2 1321.5L1980.2 1321.5L1982.2 1321.5L1984.2 1321.5L1986.2 1321.5L1988.2 1321.5L1990.2 1321.4L1992.2 1321.4L1994.2 1321.2L1996.2 1321.0L1998.2 1320.8L2000.1 1320.6L2002.1 1320.3L2004.1 1319.8L2006.0 1319.3L2007.9 1318.8L2009.9 1318.2L2011.8 1317.5L2013.6 1316.8L2015.5 1316.1L2017.3 1315.3L2019.1 1314.4L2020.9 1313.4L2022.6 1312.4L2024.2 1311.3L2025.8 1310.0L2027.3 1308.7L2028.8 1307.4L2030.3 1306.0L2031.7 1304.6L2033.1 1303.2L2034.5 1301.7L2035.8 1300.2L2037.1 1298.7L2038.4 1297.1L2039.6 1295.5L2040.7 1293.9L2041.8 1292.2L2042.9 1290.6L2043.9 1288.8L2044.9 1287.1L2045.9 1285.3L2046.8 1283.5L2047.7 1281.7L2048.6 1280.0L2049.4 1278.2L2050.3 1276.3L2051.1 1274.5L2051.9 1272.7L2052.7 1270.8L2053.5 1269.0L2054.3 1267.2L2055.1 1265.3L2055.9 1263.5L2056.7 1261.7L2057.5 1259.8L2058.3 1258.0L2059.1 1256.2L2059.9 1254.4L2060.7 1252.5L2061.6 1250.7L2062.4 1248.9L2063.2 1247.1L2064.0 1245.2L2064.9 1243.4L2065.7 1241.6L2066.6 1239.8L2067.5 1238.0L2068.4 1236.2L2069.3 1234.5L2070.3 1232.7L2071.3 1231.0L2072.4 1229.3L2073.5 1227.6L2074.6 1225.9L2075.7 1224.3L2076.9 1222.7L2078.1 1221.0L2079.3 1219.5L2080.6 1218.0L2082.0 1216.5L2083.5 1215.2L2085.0 1213.9L2086.7 1212.7L2088.4 1211.7L2090.2 1210.9L2092.1 1210.2L2094.0 1209.7L2096.0 1209.5L2098.0 1209.5L2100.0 1209.6L2102.0 1209.8L2103.9 1210.1L2105.8 1210.6L2107.7 1211.2L2109.6 1212.0L2110.1 1212.3" fill="none" stroke="#008000" stroke-width="11.0" stroke-linecap="round" stroke-linejoin="round"/>
<path d="M191.6 886.7L193.1 888.2L194.5 889.5L196.1 890.7L197.6 892.0L199.3 893.2L200.9 894.3L202.6 895.4L204.4 896.4L206.2 897.1L208.1 897.7L210.0 898.1L212.0 898.4L214.0 898.4L216.0 898.3L218.0 897.9L219.9 897.2L221.7 896.5L223.4 895.6L225.0 894.4L226.5 893.1L228.0 891.7L229.5 890.3L231.0 888.8L232.4 887.3L233.8 885.8L235.2 884.4L236.8 883.3L238.4 882.3L240.3 881.5L242.2 880.9L244.2 880.4L246.1 880.3L248.1 880.6L250.0 881.2L251.9 881.9L253.7 882.7L255.3 883.7L256.9 885.0L258.4 886.3L259.9 887.7L261.4 889.1L263.0 890.4L264.5 891.7L266.1 893.0L267.7 894.1L269.4 895.1L271.1 896.0L273.0 896.7L274.9 897.4L276.8 898.1L278.7 898.7L280.6 899.3L282.5 899.9L284.4 900.5L286.4 901.0L288.3 901.6L290.2 902.2L292.1 902.8L294.0 903.4L295.9 904.1L297.8 904.8L299.6 905.5L301.5 906.3L303.3 907.0L305.1 907.9L306.9 908.7L308.7 909.7L310.4 910.6L312.2 911.7L313.9 912.7L315.6 913.8L317.2 914.9L318.9 916.0L320.6 917.1L322.2 918.3L323.8 919.5L325.4 920.7L327.0 921.9L328.7 923.1L330.3 924.2L332.0 925.2L333.8 926.0L335.6 926.9L337.4 927.7L339.3 928.4L341.2 929.1L343.1 929.8L345.0 930.4L346.9 931.0L348.8 931.6L350.8 932.1L352.7 932.6L354.7 933.2L356.6 933.8L358.4 934.5L360.1 935.4L361.8 936.5L363.5 937.6L365.1 938.8L366.7 940.0L368.3 941.2L369.9 942.4L371.5 943.6L373.1 944.8L374.7 946.0L376.3 947.2L378.0 948.3L379.6 949.5L381.3 950.6L383.0 951.7L384.7 952.7L386.5 953.7L388.2 954.6L390.0 955.5L391.8 956.3L393.7 957.0L395.6 957.7L397.4 958.4L399.4 959.1L401.3 959.6L403.2 960.2L405.2 960.6L407.1 961.1L409.1 961.4L411.0 961.8L413.0 962.2L415.0 962.5L417.0 962.7L419.0 962.9L421.0 963.1L423.0 963.2L425.0 963.3L427.0 963.4L429.0 963.5L431.0 963.6L433.0 963.6L435.0 963.6L437.0 963.7L439.0 963.7L441.0 963.6L443.0 963.5L444.9 963.4L446.9 963.2L448.9 963.0L450.9 962.7L452.9 962.5L454.9 962.2L456.9 961.9L458.8 961.6L460.8 961.2L462.7 960.8L464.7 960.3L466.6 959.8L468.6 959.4L470.5 958.9L472.5 958.5L474.5 958.1L476.4 957.8L478.4 957.5L480.4 957.2L482.4 957.0L484.4 956.7L486.3 956.4L488.3 956.2L490.3 955.9L492.3 955.6L494.3 955.2L496.2 954.9L498.2 954.6L500.2 954.2L502.1 953.8L504.1 953.4L506.0 952.9L508.0 952.4L509.9 951.9L511.9 951.4L513.8 950.8L515.7 950.1L517.6 949.4L519.4 948.6L521.2 947.7L522.9 946.8L524.6 945.7L526.2 944.5L527.8 943.2L529.3 941.9L530.7 940.5L532.1 939.0L533.3 937.5L534.5 935.9L535.6 934.2L536.6 932.5L537.6 930.7L538.6 928.9L539.5 927.2L540.4 925.4L541.2 923.5L542.0 921.7L542.7 919.9L543.5 918.0L544.2 916.1L544.9 914.3L545.7 912.4L546.5 910.5L547.2 908.6L548.0 906.6L548.8 904.7L549.6 902.9L550.6 901.2L551.9 899.8L553.4 898.7L555.2 898.2L557.1 898.5L558.8 899.4L560.4 900.7L561.6 902.1L562.7 903.7L563.6 905.5L564.4 907.4L565.3 909.3L566.2 911.2L567.0 913.0L567.9 914.8L568.7 916.6L569.6 918.5L570.5 920.3L571.4 922.0L572.4 923.7L573.5 925.4L574.7 927.1L575.9 928.8L577.2 930.3L578.6 931.7L580.1 932.9L581.8 933.9L583.6 934.9L585.5 935.7L587.4 936.2L589.4 936.5L591.3 936.5L593.3 936.3L595.3 936.1L597.3 935.9L599.3 935.6L601.3 935.4L603.3 935.2L605.3 935.2L607.3 935.4L609.2 935.8L611.1 936.4L613.0 937.1L614.9 937.8L616.7 938.7L618.5 939.6L620.4 940.3L622.2 941.0L624.2 941.4L626.1 941.8L628.1 942.1L630.1 942.3L632.1 942.3L634.1 942.2L636.1 941.9L638.1 941.6L640.0 941.2L642.0 940.7L643.8 940.1L645.7 939.4L647.5 938.6L649.4 937.8L651.2 937.0L653.1 936.1L654.9 935.4L656.8 934.7L658.7 934.0L660.7 933.5L662.6 932.9L664.6 932.3L666.5 931.7L668.4 931.1L670.2 930.3L671.9 929.5L673.5 928.4L675.1 927.2L676.6 925.8L678.1 924.4L679.5 923.0L680.9 921.6L682.2 920.1L683.5 918.5L684.8 917.0L686.0 915.4L687.4 913.9L688.7 912.4L690.1 910.8L691.5 909.4L693.0 908.1L694.6 907.1L696.5 906.3L698.4 905.7L700.3 905.6L702.2 905.9L704.1 906.6L705.9 907.5L707.7 908.5L709.3 909.6L710.9 910.9L712.6 912.0L714.3 913.0L716.2 913.8L718.1 914.4L720.0 914.6L721.9 914.4L723.8 913.9L725.7 913.1L727.6 912.3L729.4 911.3L731.1 910.3L732.8 909.1L734.5 908.1L736.3 907.3L738.2 906.8L740.1 906.5L742.1 906.3L744.1 906.2L746.1 906.2L748.1 906.2L750.2 906.3L752.1 906.3L754.1 906.2L756.1 905.8L758.0 905.3L759.9 904.6L761.7 903.8L763.5 902.9L765.2 901.9L766.9 900.8L768.6 899.6L770.2 898.5L771.9 897.4L773.5 896.2L775.1 895.0L776.7 893.7L778.2 892.5L779.7 891.2L781.2 889.8L782.7 888.5L784.1 887.1L785.5 885.7L786.9 884.2L788.3 882.8L789.7 881.3L791.1 879.9L792.4 878.4L793.8 877.0L795.2 875.5L796.5 874.0L797.9 872.6L799.2 871.1L800.6 869.6L801.9 868.1L803.2 866.6L804.6 865.1L805.9 863.6L807.2 862.1L808.5 860.6L809.8 859.1L811.1 857.5L812.4 856.0L813.7 854.5L815.0 852.9L816.2 851.4L817.4 849.8L818.7 848.2L819.8 846.6L821.0 845.0L822.2 843.4L823.3 841.7L824.5 840.1L825.6 838.4L826.7 836.8L827.8 835.1L828.9 833.4L830.0 831.7L831.1 830.1L832.1 828.4L833.2 826.7L834.2 825.0L835.3 823.3L836.3 821.5L837.3 819.8L838.3 818.1L839.3 816.4L840.3 814.6L841.3 812.9L842.3 811.1L843.2 809.4L844.2 807.6L845.1 805.8L846.0 804.0L846.9 802.3L847.8 800.5L848.7 798.7L849.5 796.9L850.4 795.0L851.2 793.2L852.0 791.4L852.9 789.6L853.7 787.8L854.5 785.9L855.3 784.1L856.1 782.3L856.9 780.4L857.7 778.6L858.4 776.7L859.2 774.9L860.0 773.0L860.7 771.2L861.5 769.3L862.2 767.5L862.9 765.6L863.6 763.7L864.3 761.9L865.0 760.0L865.7 758.1L866.4 756.2L867.0 754.3L867.7 752.4L868.3 750.5L868.9 748.6L869.6 746.7L870.2 744.8L870.8 742.9L871.4 741.0L872.0 739.1L872.5 737.2L873.1 735.3L873.7 733.4L874.3 731.4L874.8 729.5L875.4 727.6L876.0 725.7L876.5 723.8L877.1 721.8L877.6 719.9L878.1 718.0L878.7 716.1L879.2 714.1L879.7 712.2L880.3 710.3L880.8 708.3L881.3 706.4L881.8 704.5L882.3 702.5L882.8 700.6L883.2 698.6L883.7 696.7L884.2 694.8L884.6 692.8L885.1 690.9L885.5 688.9L886.0 687.0L886.4 685.0L886.9 683.1L887.3 681.1L887.7 679.2L888.1 677.2L888.6 675.2L889.0 673.3L889.4 671.3L889.8 669.4L890.3 667.4L890.7 665.5L891.1 663.5L891.5 661.6L891.9 659.6L892.3 657.6L892.7 655.7L893.1 653.7L893.5 651.8L893.9 649.8L894.3 647.8L894.7 645.9L895.1 643.9L895.5 642.0L896.0 640.0L896.4 638.1L896.8 636.1L897.2 634.1L897.6 632.2L898.0 630.2L898.4 628.3L898.8 626.3L899.2 624.3L899.6 622.4L900.0 620.4L900.4 618.5L900.8 616.5L901.3 614.6L901.7 612.6L902.1 610.6L902.5 608.7L902.9 606.7L903.3 604.8L903.7 602.8L904.1 600.8L904.5 598.9L904.9 596.9L905.3 595.0L905.7 593.0L906.1 591.0L906.5 589.1L906.9 587.1L907.3 585.2L907.7 583.2L908.2 581.3L908.6 579.3L909.0 577.3L909.4 575.4L909.8 573.4L910.3 571.5L910.7 569.5L911.1 567.6L911.6 565.6L912.0 563.7L912.4 561.7L912.9 559.8L913.3 557.8L913.8 555.9L914.2 553.9L914.7 552.0L915.2 550.0L915.6 548.1L916.1 546.2L916.6 544.2L917.1 542.3L917.6 540.3L918.1 538.4L918.7 536.5L919.2 534.5L919.7 532.6L920.2 530.7L920.8 528.8L921.3 526.8L921.9 524.9L922.4 523.0L923.0 521.1L923.5 519.1L924.1 517.2L924.6 515.3L925.1 513.4L925.7 511.4L926.2 509.5L926.8 507.6L927.3 505.6L927.9 503.7L928.5 501.8L929.0 499.9L929.7 498.0L930.3 496.1L930.9 494.2L931.6 492.3L932.2 490.4L932.9 488.5L933.6 486.6L934.4 484.7L935.1 482.9L935.9 481.0L936.7 479.2L937.6 477.4L938.5 475.7L939.5 474.0L940.6 472.3L941.8 470.6L943.1 469.0L944.4 467.5L945.9 466.2L947.4 464.9L949.0 463.8L950.8 462.8L952.6 462.0L954.5 461.3L956.4 460.8L958.4 460.5L960.3 460.5L962.1 461.1L963.9 462.1L965.7 463.0L967.6 463.8L969.5 464.4L971.3 465.2L973.1 466.1L974.7 467.3L976.2 468.6L977.6 470.1L978.8 471.7L979.8 473.3L980.8 475.0L981.6 476.8L982.5 478.6L983.2 480.5L984.0 482.4L984.7 484.3L985.4 486.2L986.2 488.1L986.9 489.9L987.6 491.8L988.3 493.7L989.0 495.6L989.6 497.5L990.3 499.4L990.9 501.3L991.6 503.2L992.2 505.1L992.8 507.0L993.4 508.9L994.0 510.8L994.5 512.7L995.1 514.6L995.6 516.5L996.2 518.5L996.7 520.4L997.3 522.3L997.8 524.3L998.3 526.2L998.8 528.1L999.3 530.1L999.8 532.0L1000.3 533.9L1000.8 535.9L1001.2 537.8L1001.7 539.8L1002.2 541.7L1002.6 543.7L1003.1 545.6L1003.5 547.6L1003.9 549.5L1004.4 551.5L1004.8 553.4L1005.2 555.4L1005.7 557.3L1006.1 559.3L1006.5 561.2L1007.0 563.2L1007.4 565.1L1007.9 567.1L1008.4 569.0L1008.8 571.0L1009.3 572.9L1009.8 574.9L1010.3 576.8L1010.7 578.7L1011.2 580.7L1011.7 582.6L1012.2 584.6L1012.7 586.5L1013.2 588.4L1013.7 590.4L1014.2 592.3L1014.7 594.2L1015.2 596.2L1015.7 598.1L1016.2 600.1L1016.7 602.0L1017.2 603.9L1017.7 605.9L1018.2 607.8L1018.8 609.7L1019.3 611.6L1019.8 613.6L1020.3 615.5L1020.9 617.4L1021.4 619.4L1021.9 621.3L1022.5 623.2L1023.0 625.1L1023.6 627.1L1024.1 629.0L1024.7 630.9L1025.2 632.8L1025.8 634.8L1026.3 636.7L1026.9 638.6L1027.5 640.5L1028.0 642.4L1028.6 644.3L1029.2 646.3L1029.8 648.2L1030.4 650.1L1031.0 652.0L1031.7 653.9L1032.3 655.8L1033.0 657.6L1033.6 659.5L1034.3 661.4L1035.0 663.3L1035.7 665.2L1036.4 667.0L1037.2 668.9L1037.9 670.8L1038.7 672.6L1039.5 674.4L1040.3 676.3L1041.1 678.1L1042.0 679.9L1042.9 681.7L1043.7 683.5L1044.7 685.3L1045.6 687.0L1046.5 688.8L1047.5 690.6L1048.5 692.3L1049.5 694.0L1050.5 695.7L1051.6 697.4L1052.7 699.1L1053.9 700.7L1055.0 702.4L1056.1 704.0L1057.2 705.7L1058.3 707.4L1059.3 709.1L1060.3 710.8L1061.3 712.6L1062.2 714.3L1063.2 716.1L1064.1 717.9L1064.9 719.7L1065.8 721.5L1066.7 723.3L1067.6 725.1L1068.4 726.9L1069.3 728.7L1070.2 730.5L1071.1 732.3L1072.0 734.1L1072.8 735.9L1073.7 737.7L1074.6 739.5L1075.4 741.3L1076.3 743.1L1077.2 744.9L1078.1 746.7L1079.0 748.5L1079.9 750.2L1080.9 752.0L1081.9 753.7L1082.8 755.5L1083.8 757.3L1084.7 759.1L1085.7 760.9L1086.8 762.6L1087.8 764.4L1088.9 766.0L1090.1 767.6L1091.3 769.1L1092.7 770.5L1094.2 771.7L1095.8 772.9L1097.4 774.1L1099.0 775.4L1100.5 776.7L1102.0 778.0L1103.4 779.5L1104.8 780.9L1106.2 782.4L1107.6 783.8L1109.0 785.2L1110.5 786.6L1111.9 787.9L1113.5 789.2L1115.0 790.5L1116.6 791.8L1118.1 793.0L1119.8 794.2L1121.4 795.3L1123.1 796.4L1124.8 797.5L1126.5 798.5L1128.2 799.5L1130.0 800.4L1131.8 801.2L1133.7 802.0L1135.6 802.7L1137.5 803.3L1139.4 803.9L1141.3 804.3L1143.3 804.7L1145.3 804.9L1147.3 805.1L1149.3 805.3L1151.3 805.5L1153.3 805.5L1155.3 805.5L1157.3 805.3L1159.3 805.0L1161.2 804.7L1163.2 804.3L1165.1 803.8L1167.1 803.3L1169.0 802.6L1170.8 801.9L1172.7 801.1L1174.5 800.1L1176.2 799.2L1177.8 798.1L1179.5 797.0L1181.0 795.7L1182.6 794.4L1184.1 793.0L1185.5 791.7L1187.0 790.3L1188.4 788.9L1189.8 787.4L1191.1 785.9L1192.5 784.4L1193.8 782.9L1195.1 781.4L1196.3 779.8L1197.5 778.2L1198.7 776.7L1199.9 775.0L1201.1 773.4L1202.2 771.7L1203.3 770.1L1204.4 768.4L1205.5 766.7L1206.5 765.0L1207.5 763.3L1208.5 761.5L1209.5 759.8L1210.4 758.0L1211.4 756.3L1212.3 754.5L1213.2 752.7L1214.1 750.9L1214.9 749.1L1215.8 747.3L1216.6 745.4L1217.4 743.6L1218.3 741.8L1219.1 740.0L1219.9 738.1L1220.6 736.3L1221.4 734.4L1222.2 732.6L1222.9 730.7L1223.7 728.9L1224.4 727.0L1225.1 725.1L1225.8 723.2L1226.4 721.3L1227.0 719.4L1227.6 717.5L1228.2 715.6L1228.7 713.7L1229.3 711.8L1229.8 709.9L1230.3 707.9L1230.8 706.0L1231.2 704.0L1231.7 702.1L1232.2 700.1L1232.6 698.2L1233.0 696.2L1233.5 694.3L1233.9 692.3L1234.3 690.3L1234.7 688.4L1235.1 686.4L1235.5 684.5L1235.8 682.5L1236.2 680.5L1236.6 678.6L1236.9 676.6L1237.3 674.6L1237.6 672.7L1237.9 670.7L1238.3 668.7L1238.6 666.7L1238.9 664.8L1239.2 662.8L1239.6 660.8L1239.9 658.8L1240.2 656.9L1240.5 654.9L1240.8 652.9L1241.1 650.9L1241.4 649.0L1241.7 647.0L1242.0 645.0L1242.3 643.0L1242.6 641.0L1242.8 639.1L1243.1 637.1L1243.4 635.1L1243.7 633.1L1244.0 631.1L1244.3 629.2L1244.6 627.2L1244.8 625.2L1245.1 623.2L1245.4 621.2L1245.7 619.3L1246.0 617.3L1246.2 615.3L1246.5 613.3L1246.8 611.3L1247.1 609.4L1247.4 607.4L1247.6 605.4L1247.9 603.4L1248.2 601.4L1248.5 599.5L1248.8 597.5L1249.0 595.5L1249.3 593.5L1249.6 591.5L1249.9 589.5L1250.1 587.6L1250.4 585.6L1250.7 583.6L1251.0 581.6L1251.2 579.6L1251.5 577.7L1251.8 575.7L1252.1 573.7L1252.4 571.7L1252.7 569.7L1253.0 567.8L1253.3 565.8L1253.6 563.8L1253.9 561.8L1254.2 559.9L1254.5 557.9L1254.8 555.9L1255.1 553.9L1255.5 552.0L1255.8 550.0L1256.1 548.0L1256.5 546.0L1256.8 544.1L1257.2 542.1L1257.5 540.1L1257.9 538.2L1258.2 536.2L1258.6 534.2L1258.9 532.2L1259.3 530.3L1259.6 528.3L1260.0 526.3L1260.4 524.4L1260.8 522.4L1261.2 520.4L1261.6 518.5L1262.1 516.6L1262.5 514.6L1263.0 512.7L1263.6 510.8L1264.1 508.8L1264.7 506.9L1265.3 504.9L1266.0 503.0L1266.7 501.1L1267.5 499.3L1268.3 497.5L1269.1 495.7L1270.1 493.9L1271.1 492.1L1272.3 490.4L1273.6 488.9L1275.1 487.7L1276.8 486.8L1278.7 486.2L1280.6 486.0L1282.3 486.6L1284.0 487.8L1285.3 489.3L1286.5 490.9L1287.4 492.5L1288.2 494.3L1289.0 496.2L1289.7 498.2L1290.3 500.2L1290.9 502.1L1291.5 504.0L1292.1 506.0L1292.6 507.9L1293.1 509.8L1293.6 511.7L1294.1 513.7L1294.6 515.6L1295.0 517.6L1295.5 519.6L1295.9 521.5L1296.3 523.5L1296.7 525.4L1297.1 527.4L1297.4 529.4L1297.8 531.3L1298.1 533.3L1298.4 535.3L1298.8 537.2L1299.1 539.2L1299.4 541.2L1299.7 543.2L1300.0 545.1L1300.4 547.1L1300.7 549.1L1301.0 551.1L1301.4 553.0L1301.7 555.0L1302.1 557.0L1302.4 559.0L1302.7 560.9L1303.1 562.9L1303.4 564.9L1303.8 566.8L1304.2 568.8L1304.5 570.8L1304.9 572.7L1305.3 574.7L1305.6 576.7L1306.0 578.6L1306.4 580.6L1306.8 582.5L1307.3 584.5L1307.7 586.4L1308.1 588.4L1308.5 590.4L1309.0 592.3L1309.4 594.3L1309.9 596.2L1310.4 598.2L1310.8 600.1L1311.3 602.0L1311.8 604.0L1312.3 605.9L1312.8 607.8L1313.4 609.8L1313.9 611.7L1314.5 613.6L1315.0 615.5L1315.6 617.5L1316.2 619.4L1316.8 621.3L1317.4 623.2L1318.0 625.1L1318.7 627.0L1319.3 628.9L1319.9 630.8L1320.6 632.7L1321.3 634.6L1322.0 636.5L1322.7 638.3L1323.6 640.1L1324.4 641.9L1325.4 643.6L1326.5 645.3L1327.7 646.9L1328.9 648.5L1330.1 650.1L1331.3 651.7L1332.5 653.3L1333.7 654.9L1334.9 656.6L1336.0 658.2L1337.1 659.8L1338.2 661.5L1339.2 663.2L1340.2 665.0L1341.2 666.7L1342.1 668.5L1343.1 670.3L1344.0 672.0L1345.0 673.8L1345.9 675.6L1346.8 677.3L1347.8 679.1L1348.7 680.9L1349.7 682.6L1350.6 684.4L1351.7 686.1L1352.7 687.8L1353.8 689.4L1354.9 691.1L1356.1 692.7L1357.3 694.3L1358.5 695.9L1359.7 697.5L1360.9 699.1L1362.2 700.7L1363.4 702.3L1364.6 703.9L1365.8 705.5L1367.0 707.1L1368.3 708.6L1369.5 710.2L1370.8 711.7L1372.1 713.3L1373.4 714.8L1374.7 716.3L1376.1 717.8L1377.4 719.3L1378.8 720.8L1380.3 722.2L1381.8 723.5L1383.3 724.7L1385.0 725.8L1386.7 727.0L1388.5 727.9L1390.4 728.5L1392.2 728.6L1394.1 728.1L1396.0 727.2L1397.7 726.1L1399.3 724.9L1400.6 723.5L1401.8 722.0L1402.8 720.3L1403.8 718.5L1404.8 716.6L1405.7 714.8L1406.6 713.0L1407.5 711.2L1408.3 709.4L1409.2 707.6L1409.9 705.7L1410.7 703.9L1411.6 702.0L1412.4 700.2L1413.2 698.4L1414.0 696.5L1414.8 694.6L1415.7 692.7L1416.5 690.9L1417.5 689.2L1418.6 687.6L1419.8 686.1L1421.3 684.7L1422.9 683.5L1424.7 682.6L1426.6 682.0L1428.5 681.8L1430.5 682.0L1432.3 682.7L1434.0 683.8L1435.6 685.1L1436.9 686.5L1438.0 688.0L1439.1 689.7L1440.1 691.5L1440.9 693.4L1441.8 695.3L1442.6 697.2L1443.4 699.0L1444.1 700.9L1444.8 702.7L1445.5 704.6L1446.1 706.5L1446.8 708.4L1447.4 710.3L1448.0 712.2L1448.7 714.1L1449.4 716.0L1450.1 717.9L1450.7 719.8L1451.4 721.6L1452.1 723.5L1452.8 725.4L1453.6 727.3L1454.3 729.1L1455.1 731.0L1455.8 732.8L1456.6 734.6L1457.4 736.5L1458.3 738.3L1459.1 740.2L1460.0 742.0L1460.9 743.8L1461.9 745.5L1462.9 747.2L1464.0 748.9L1465.1 750.5L1466.3 752.1L1467.6 753.6L1469.0 755.1L1470.4 756.6L1471.8 758.0L1473.2 759.4L1474.7 760.7L1476.2 762.1L1477.8 763.4L1479.4 764.6L1481.1 765.6L1482.9 766.5L1484.7 767.2L1486.6 767.9L1488.6 768.4L1490.5 768.6L1492.5 768.4L1494.4 767.9L1496.3 767.1L1498.1 766.2L1499.7 765.1L1501.2 763.9L1502.6 762.5L1503.8 760.9L1505.1 759.2L1506.3 757.5L1507.4 755.9L1508.5 754.2L1509.6 752.5L1510.6 750.8L1511.6 749.1L1512.6 747.3L1513.6 745.6L1514.6 743.8L1515.6 742.1L1516.6 740.3L1517.6 738.5L1518.6 736.7L1519.7 735.1L1520.9 733.5L1522.3 732.1L1523.9 730.8L1525.6 729.7L1527.3 729.2L1529.1 729.5L1530.9 730.4L1532.5 731.6L1534.0 733.1L1535.3 734.5L1536.3 736.1L1537.2 737.9L1538.1 739.7L1538.9 741.6L1539.6 743.6L1540.4 745.5L1541.2 747.3L1542.0 749.2L1542.8 751.1L1543.6 752.9L1544.4 754.8L1545.2 756.7L1546.0 758.5L1546.9 760.2L1547.9 761.9L1549.0 763.7L1550.2 765.5L1551.5 767.4L1552.8 769.3L1554.2 770.9L1555.7 772.4L1557.3 773.4L1558.9 774.1L1560.6 774.2L1562.4 773.8L1564.3 773.1L1566.1 772.2L1567.7 771.1L1569.2 769.8L1570.6 768.3L1571.9 766.7L1573.0 765.0L1574.0 763.3L1575.0 761.6L1575.8 759.8L1576.6 757.9L1577.4 756.0L1578.1 754.2L1578.8 752.3L1579.5 750.4L1580.2 748.5L1580.8 746.6L1581.4 744.7L1582.1 742.8L1582.7 740.9L1583.3 739.0L1583.9 737.1L1584.6 735.2L1585.3 733.3L1585.9 731.4L1586.6 729.5L1587.3 727.6L1588.1 725.8L1589.0 724.0L1590.0 722.2L1591.2 720.5L1592.6 719.1L1594.2 718.2L1596.0 718.0L1597.8 718.5L1599.5 719.6L1600.8 721.1L1601.9 722.6L1602.8 724.4L1603.6 726.3L1604.4 728.2L1605.1 730.1L1605.9 732.0L1606.5 733.9L1607.2 735.8L1607.8 737.7L1608.5 739.6L1609.1 741.5L1609.6 743.4L1610.2 745.3L1610.8 747.2L1611.4 749.2L1612.0 751.1L1612.5 753.0L1613.1 754.9L1613.6 756.8L1614.2 758.8L1614.8 760.7L1615.4 762.6L1616.1 764.5L1616.8 766.3L1617.4 768.2L1618.2 770.1L1618.9 772.0L1619.6 773.8L1620.4 775.7L1621.2 777.5L1622.0 779.3L1622.8 781.2L1623.7 783.0L1624.6 784.8L1625.5 786.6L1626.5 788.3L1627.5 790.0L1628.7 791.6L1630.0 793.1L1631.4 794.6L1632.8 796.0L1634.2 797.4L1635.7 798.7L1637.3 800.0L1639.0 801.2L1640.7 802.1L1642.5 802.9L1644.4 803.5L1646.4 803.9L1648.4 804.1L1650.4 803.9L1652.3 803.4L1654.2 802.8L1656.0 802.0L1657.7 801.0L1659.2 799.7L1660.7 798.3L1662.1 796.8L1663.5 795.3L1664.7 793.8L1665.9 792.2L1667.1 790.5L1668.2 788.9L1669.4 787.2L1670.5 785.6L1671.7 784.0L1672.9 782.3L1674.0 780.7L1675.2 779.1L1676.4 777.5L1677.6 775.9L1678.8 774.3L1680.0 772.6L1681.3 771.1L1682.6 769.6L1684.0 768.2L1685.5 766.8L1687.1 765.6L1688.9 764.7L1690.8 764.2L1692.7 764.1L1694.7 764.4L1696.5 765.1L1698.2 766.1L1699.7 767.4L1701.0 768.9L1702.2 770.5L1703.3 772.2L1704.3 774.0L1705.2 775.7L1706.0 777.6L1706.8 779.4L1707.5 781.3L1708.3 783.2L1709.1 785.0L1709.9 786.9L1710.8 788.7L1711.6 790.5L1712.5 792.3L1713.4 794.0L1714.3 795.8L1715.3 797.6L1716.2 799.4L1717.1 801.2L1718.0 802.9L1719.0 804.7L1719.9 806.5L1720.9 808.2L1722.0 809.9L1723.1 811.5L1724.2 813.2L1725.4 814.8L1726.6 816.4L1727.9 817.9L1729.2 819.4L1730.6 820.9L1732.0 822.4L1733.4 823.8L1734.9 825.1L1736.4 826.4L1737.9 827.7L1739.5 828.9L1741.1 830.1L1742.8 831.2L1744.5 832.2L1746.3 833.1L1748.1 833.9L1750.0 834.6L1751.9 835.4L1753.7 836.1L1755.6 836.9L1757.4 837.7L1759.2 838.6L1761.0 839.5L1762.8 840.4L1764.5 841.4L1766.2 842.5L1767.8 843.6L1769.4 844.9L1770.9 846.2L1772.4 847.5L1773.9 848.8L1775.3 850.2L1776.8 851.6L1778.2 853.0L1779.6 854.5L1781.0 855.9L1782.4 857.3L1783.8 858.7L1785.2 860.2L1786.6 861.6L1788.0 863.0L1789.4 864.4L1790.9 865.8L1792.3 867.3L1793.6 868.7L1795.0 870.1L1796.4 871.6L1797.9 873.0L1799.3 874.3L1800.8 875.7L1802.3 877.0L1803.8 878.3L1805.4 879.6L1807.0 880.8L1808.6 882.0L1810.2 883.2L1811.8 884.3L1813.5 885.4L1815.2 886.5L1816.9 887.6L1818.6 888.6L1820.4 889.6L1822.2 890.5L1824.0 891.3L1825.8 892.0L1827.7 892.7L1829.6 893.3L1831.5 893.9L1833.4 894.5L1835.3 895.0L1837.3 895.6L1839.2 896.1L1841.1 896.6L1843.1 897.2L1845.0 897.7L1847.0 898.1L1848.9 898.6L1850.9 899.0L1852.8 899.3L1854.8 899.6L1856.8 899.9L1858.8 900.1L1860.8 900.2L1862.8 900.2L1864.8 900.2L1866.8 900.2L1868.8 900.2L1870.8 900.2L1872.8 900.2L1874.8 900.1L1876.8 899.9L1878.8 899.6L1880.7 899.3L1882.7 899.0L1884.7 898.6L1886.7 898.2L1888.6 897.8L1890.6 897.5L1892.6 897.3L1894.6 897.2L1896.6 897.2L1898.6 897.2L1900.6 897.3L1902.6 897.4L1904.5 897.7L1906.4 898.2L1908.2 899.0L1910.0 900.0L1911.8 901.1L1913.5 902.1L1915.1 903.2L1916.7 904.4L1918.3 905.7L1919.9 906.9L1921.4 908.2L1923.0 909.4L1924.6 910.7L1926.1 912.0L1927.7 913.2L1929.2 914.5L1930.8 915.7L1932.4 916.9L1934.0 918.1L1935.7 919.2L1937.4 920.3L1939.1 921.4L1940.8 922.3L1942.6 923.2L1944.4 924.0L1946.3 924.6L1948.2 925.3L1950.1 925.9L1952.1 926.4L1954.0 927.0L1955.9 927.5L1957.9 928.0L1959.8 928.5L1961.8 928.9L1963.7 929.3L1965.7 929.6L1967.7 929.9L1969.7 930.1L1971.7 930.2L1973.7 930.4L1975.7 930.5L1977.7 930.6L1979.7 930.7L1981.7 930.7L1983.7 930.7L1985.7 930.7L1987.7 930.6L1989.7 930.5L1991.7 930.3L1993.7 930.2L1995.6 930.0L1997.6 929.7L1999.6 929.3L2001.5 928.8L2003.4 928.2L2005.3 927.5L2007.2 926.9L2009.1 926.1L2010.9 925.4L2012.7 924.5L2014.5 923.6L2016.3 922.6L2018.0 921.6L2019.6 920.5L2021.2 919.3L2022.8 918.0L2024.3 916.7L2025.8 915.4L2027.3 914.0L2028.7 912.6L2030.1 911.2L2031.5 909.7L2032.9 908.2L2034.2 906.7L2035.5 905.2L2036.7 903.6L2037.9 902.0L2039.0 900.3L2040.0 898.7L2041.0 896.9L2042.0 895.2L2042.9 893.4L2043.8 891.6L2044.7 889.8L2045.6 888.0L2046.4 886.1L2047.2 884.3L2047.9 882.5L2048.7 880.6L2049.4 878.7L2050.1 876.9L2050.7 875.0L2051.4 873.1L2052.0 871.2L2052.7 869.3L2053.3 867.4L2053.9 865.5L2054.5 863.6L2055.1 861.7L2055.7 859.7L2056.2 857.8L2056.8 855.9L2057.3 854.0L2057.9 852.1L2058.5 850.1L2059.0 848.2L2059.6 846.3L2060.2 844.4L2060.7 842.5L2061.3 840.5L2061.9 838.6L2062.5 836.7L2063.0 834.8L2063.7 832.9L2064.3 831.0L2064.9 829.1L2065.5 827.2L2066.1 825.3L2066.8 823.4L2067.5 821.5L2068.2 819.6L2068.9 817.8L2069.7 815.9L2070.4 814.1L2071.3 812.2L2072.1 810.4L2073.0 808.6L2074.0 806.9L2075.0 805.2L2076.1 803.5L2077.4 801.9L2078.7 800.3L2080.1 798.9L2081.5 797.6L2083.1 796.4L2084.9 795.4L2086.7 794.5L2088.6 793.9L2090.5 793.6L2092.5 793.6L2094.4 793.9L2096.2 794.7L2098.0 795.8L2099.6 796.9L2101.2 798.2L2102.7 799.5L2104.2 800.9L2105.6 802.2L2107.1 803.6L2108.6 804.9L2110.1 806.2L2111.3 807.2" fill="none" stroke="#ff00ff" stroke-width="11.0" stroke-linecap="round" stroke-linejoin="round"/>
<path d="M191.6 420.1L193.6 420.3L195.6 420.4L197.6 420.5L199.6 420.6L201.6 420.6L203.6 420.7L205.6 420.8L207.6 420.9L209.6 420.9L211.6 421.0L213.5 421.0L215.5 421.0L217.5 421.1L219.5 421.1L221.5 421.1L223.5 421.2L225.5 421.2L227.5 421.2L229.5 421.2L231.5 421.2L233.5 421.2L235.5 421.2L237.5 421.2L239.5 421.1L241.5 421.1L243.5 421.0L245.5 421.0L247.5 420.9L249.5 420.8L251.5 420.7L253.5 420.6L255.5 420.6L257.5 420.5L259.5 420.4L261.5 420.3L263.5 420.1L265.5 420.0L267.5 419.8L269.5 419.6L271.5 419.5L273.5 419.3L275.5 419.1L277.5 418.9L279.5 418.6L281.4 418.4L283.4 418.2L285.4 418.0L287.4 417.8L289.5 417.6L291.5 417.4L293.5 417.2L295.5 416.9L297.4 416.6L299.3 416.1L301.1 415.3L302.9 414.3L304.6 413.2L306.0 411.9L307.3 410.4L308.4 408.8L309.4 407.0L310.3 405.1L311.1 403.3L311.9 401.4L312.6 399.6L313.2 397.7L313.8 395.8L314.4 393.8L315.0 391.9L315.6 390.0L316.2 388.1L316.8 386.1L317.5 384.2L318.1 382.2L318.7 380.2L319.5 378.4L320.5 376.8L321.9 375.5L323.5 374.8L325.0 375.1L326.4 376.4L327.7 378.1L328.7 379.9L329.7 381.7L330.5 383.5L331.2 385.3L332.0 387.2L332.8 389.1L333.6 390.9L334.5 392.8L335.4 394.7L336.3 396.5L337.4 398.2L338.6 399.7L340.0 401.0L341.7 402.1L343.5 402.9L345.4 403.1L347.3 402.8L349.2 402.2L351.1 401.3L352.9 400.4L354.7 399.4L356.4 398.2L358.0 397.0L359.5 395.6L360.7 394.1L361.8 392.6L362.7 390.9L363.5 389.1L364.2 387.2L364.8 385.2L365.4 383.2L365.9 381.2L366.4 379.3L366.8 377.3L367.2 375.4L367.6 373.4L367.9 371.4L368.2 369.5L368.5 367.5L368.8 365.5L369.0 363.5L369.3 361.5L369.6 359.5L369.8 357.5L370.1 355.5L370.3 353.5L370.6 351.6L370.8 349.6L371.1 347.6L371.3 345.6L371.5 343.6L371.7 341.6L372.0 339.6L372.2 337.6L372.4 335.7L372.6 333.7L372.8 331.7L373.0 329.7L373.3 327.7L373.5 325.7L373.7 323.7L374.0 321.7L374.2 319.8L374.5 317.8L374.7 315.8L374.9 313.8L375.2 311.8L375.4 309.8L375.6 307.8L375.9 305.8L376.2 303.8L376.5 301.8L376.8 299.9L377.2 297.9L377.6 295.9L378.2 293.6L378.9 291.3L379.6 289.2L380.4 287.7L381.2 287.2L382.0 287.8L382.7 289.4L383.5 291.5L384.2 293.8L384.7 296.0L385.2 298.1L385.5 300.0L385.9 302.0L386.2 304.0L386.4 306.0L386.7 308.0L387.0 309.9L387.2 311.9L387.4 313.9L387.6 315.9L387.9 317.9L388.1 319.9L388.4 321.9L388.6 323.9L388.8 325.9L389.0 327.9L389.2 329.9L389.4 331.9L389.6 333.9L389.8 335.8L390.0 337.8L390.2 339.8L390.4 341.8L390.6 343.8L390.8 345.8L391.1 347.8L391.3 349.8L391.6 351.7L391.9 353.7L392.1 355.7L392.4 357.7L392.7 359.7L393.0 361.7L393.4 363.6L393.7 365.6L394.1 367.6L394.4 369.5L394.8 371.5L395.2 373.4L395.7 375.4L396.1 377.3L396.6 379.3L397.2 381.3L397.8 383.2L398.4 385.1L399.0 387.0L399.7 388.9L400.5 390.7L401.3 392.5L402.2 394.3L403.2 396.1L404.3 397.9L405.5 399.5L406.8 401.1L408.1 402.4L409.6 403.6L411.2 404.7L412.9 405.8L414.7 406.7L416.6 407.6L418.5 408.4L420.4 409.0L422.3 409.5L424.2 410.0L426.2 410.4L428.1 410.7L430.1 411.1L432.1 411.4L434.1 411.7L436.1 411.9L438.1 412.2L440.1 412.5L442.1 412.7L444.1 413.0L446.0 413.3L448.0 413.7L450.0 414.0L452.0 414.3L454.0 414.6L456.0 414.9L458.0 415.1L459.9 415.3L461.9 415.4L463.9 415.4L465.9 415.4L467.9 415.4L469.9 415.3L471.9 415.3L473.9 415.3L475.9 415.2L477.9 415.1L479.9 415.0L481.9 415.0L483.9 414.9L485.9 414.8L487.9 414.7L489.9 414.6L491.9 414.5L493.9 414.4L495.9 414.3L497.9 414.2L499.9 414.1L501.9 414.0L503.9 413.8L505.9 413.7L507.9 413.5L509.9 413.4L511.9 413.2L513.9 413.0L515.9 412.8L517.8 412.6L519.9 412.4L521.9 412.1L523.9 411.8L525.9 411.5L527.8 411.1L529.8 410.7L531.6 410.2L533.5 409.6L535.4 408.8L537.2 407.8L539.0 406.7L540.6 405.6L542.1 404.3L543.4 403.0L544.6 401.6L545.8 400.0L546.9 398.3L547.9 396.6L548.9 394.8L549.9 392.9L550.9 391.1L551.8 389.2L552.7 387.4L553.6 385.7L554.5 383.9L555.3 382.1L556.1 380.2L556.9 378.4L557.7 376.6L558.5 374.7L559.3 372.9L560.1 371.0L560.8 369.2L561.6 367.3L562.5 365.5L563.3 363.7L564.1 361.8L565.0 360.0L565.8 358.1L566.6 356.3L567.4 354.4L568.3 352.6L569.2 350.8L570.1 349.1L571.1 347.4L572.2 345.7L573.3 344.0L574.6 342.2L576.1 340.5L577.5 338.9L579.0 337.9L580.5 337.5L582.0 337.9L583.5 339.0L584.9 340.5L586.3 342.3L587.6 344.1L588.8 345.7L589.9 347.4L590.8 349.1L591.8 350.9L592.6 352.7L593.5 354.5L594.3 356.4L595.1 358.2L596.0 360.1L596.8 361.9L597.7 363.7L598.6 365.5L599.4 367.3L600.3 369.2L601.1 371.0L602.0 372.8L602.9 374.6L603.8 376.4L604.7 378.2L605.6 379.9L606.6 381.6L607.7 383.4L608.8 385.1L609.9 386.8L611.1 388.3L612.4 389.8L613.8 391.1L615.4 392.4L617.0 393.6L618.7 394.7L620.5 395.8L622.3 396.7L624.1 397.5L626.0 398.1L627.8 398.7L629.8 399.3L631.7 399.8L633.7 400.2L635.7 400.6L637.7 400.9L639.7 401.1L641.7 401.2L643.7 401.2L645.7 401.1L647.7 400.9L649.7 400.7L651.7 400.5L653.7 400.2L655.6 399.9L657.6 399.5L659.6 399.2L661.5 398.7L663.5 398.3L665.4 397.7L667.3 397.0L669.2 396.3L671.1 395.6L672.9 394.8L674.6 393.8L676.3 392.8L677.9 391.6L679.5 390.3L680.9 388.9L682.3 387.5L683.7 386.0L684.9 384.4L686.0 382.7L687.0 381.0L687.9 379.3L688.7 377.5L689.4 375.6L690.1 373.7L690.8 371.8L691.4 369.9L692.2 368.0L692.9 366.1L693.7 364.3L694.6 362.4L695.6 360.6L696.6 359.0L697.9 357.5L699.4 356.2L701.1 355.4L702.8 355.5L704.6 356.3L706.3 357.5L708.0 358.7L709.6 359.9L711.3 361.0L713.0 361.7L714.9 362.2L716.9 362.5L718.9 362.7L720.9 363.1L722.8 363.6L724.7 364.2L726.5 365.1L728.3 366.1L730.0 367.1L731.6 368.3L733.2 369.5L734.7 370.8L736.1 372.2L737.6 373.6L739.0 375.0L740.4 376.5L741.9 377.9L743.4 379.2L744.9 380.6L746.5 381.9L748.1 383.1L749.7 384.2L751.5 385.0L753.4 385.6L755.3 385.9L757.3 386.2L759.3 386.4L761.3 386.5L763.3 386.7L765.3 386.8L767.3 386.9L769.3 387.0L771.3 387.0L773.3 387.1L775.3 387.1L777.3 387.1L779.3 387.0L781.3 387.0L783.3 386.9L785.3 386.9L787.3 386.8L789.3 386.8L791.3 386.7L793.3 386.6L795.3 386.6L797.3 386.5L799.3 386.4L801.3 386.3L803.3 386.3L805.3 386.2L807.3 386.1L809.3 386.1L811.3 386.0L813.3 385.9L815.3 385.9L817.3 385.8L819.3 385.7L821.3 385.7L823.3 385.6L825.3 385.5L827.3 385.4L829.3 385.3L831.3 385.3L833.3 385.2L835.3 385.1L837.3 385.0L839.3 385.0L841.3 384.9L843.3 384.8L845.3 384.7L847.3 384.6L849.3 384.6L851.3 384.5L853.3 384.4L855.3 384.3L857.3 384.2L859.2 384.1L861.2 384.0L863.2 383.9L865.2 383.8L867.2 383.7L869.2 383.6L871.2 383.5L873.2 383.4L875.2 383.3L877.2 383.2L879.2 383.0L881.2 382.9L883.2 382.8L885.2 382.6L887.2 382.5L889.2 382.4L891.2 382.2L893.2 382.1L895.2 381.9L897.2 381.8L899.2 381.6L901.2 381.4L903.2 381.3L905.2 381.1L907.2 380.9L909.1 380.7L911.1 380.5L913.1 380.3L915.1 380.1L917.1 379.8L919.1 379.6L921.1 379.3L923.0 379.0L925.0 378.7L927.0 378.3L929.0 378.0L930.9 377.6L932.9 377.2L934.8 376.7L936.8 376.3L938.7 375.8L940.7 375.3L942.6 374.7L944.5 374.0L946.4 373.4L948.3 372.6L950.1 371.9L951.9 371.1L953.7 370.2L955.4 369.2L957.1 368.1L958.8 367.0L960.4 365.7L962.0 364.4L963.5 363.1L964.9 361.8L966.3 360.3L967.6 358.9L968.8 357.3L970.1 355.7L971.2 354.0L972.3 352.3L973.4 350.6L974.3 348.8L975.2 347.1L976.0 345.3L976.8 343.4L977.5 341.6L978.2 339.7L978.8 337.8L979.5 335.9L980.2 334.0L980.9 332.1L981.7 330.3L982.5 328.4L983.4 326.6L984.2 324.8L985.2 323.1L986.1 321.3L987.0 319.5L987.9 317.7L988.7 315.9L989.6 314.1L990.4 312.2L991.1 310.3L991.9 308.4L992.6 306.6L993.4 304.8L994.3 303.0L995.3 301.3L996.4 299.5L997.7 297.8L999.1 296.3L1000.6 295.2L1002.2 294.4L1004.1 293.8L1006.1 293.3L1008.1 293.1L1010.1 293.1L1012.0 293.6L1013.9 294.4L1015.7 295.4L1017.3 296.5L1018.7 297.8L1020.0 299.2L1021.1 300.8L1022.2 302.5L1023.2 304.3L1024.3 306.1L1025.4 307.9L1026.5 309.6L1027.6 311.3L1028.8 312.9L1029.9 314.6L1031.1 316.2L1032.4 317.8L1033.7 319.3L1035.0 320.7L1036.5 322.1L1038.1 323.4L1039.8 324.6L1041.5 325.6L1043.3 326.2L1045.3 326.5L1047.3 326.7L1049.3 326.6L1051.3 326.3L1053.2 325.8L1055.1 325.1L1056.8 324.2L1058.4 323.0L1059.8 321.6L1061.1 320.1L1062.3 318.5L1063.4 316.8L1064.3 315.0L1065.1 313.2L1065.8 311.3L1066.4 309.4L1067.0 307.5L1067.6 305.5L1068.1 303.6L1068.6 301.7L1069.1 299.7L1069.7 297.8L1070.2 295.9L1070.8 294.0L1071.4 292.1L1071.9 290.1L1072.5 288.2L1073.0 286.3L1073.4 284.3L1073.9 282.4L1074.4 280.4L1074.9 278.5L1075.3 276.6L1075.8 274.6L1076.3 272.7L1076.9 270.8L1077.4 268.8L1078.0 266.9L1078.6 265.0L1079.2 263.1L1079.8 261.2L1080.5 259.3L1081.2 257.4L1081.8 255.5L1082.5 253.7L1083.2 251.8L1083.8 249.9L1084.5 248.0L1085.2 246.1L1085.8 244.2L1086.5 242.3L1087.1 240.4L1087.8 238.6L1088.5 236.7L1089.1 234.8L1089.8 232.9L1090.5 231.0L1091.1 229.1L1091.8 227.3L1092.5 225.4L1093.2 223.5L1093.8 221.6L1094.5 219.7L1095.2 217.9L1095.9 216.0L1096.6 214.1L1097.3 212.2L1098.1 210.4L1098.8 208.5L1099.5 206.7L1100.3 204.8L1101.0 202.9L1101.7 201.1L1102.4 199.2L1103.1 197.3L1103.8 195.4L1104.5 193.6L1105.2 191.7L1106.0 189.8L1106.7 188.0L1107.4 186.1L1108.1 184.2L1108.8 182.4L1109.5 180.5L1110.3 178.6L1111.0 176.8L1111.7 174.9L1112.4 173.0L1113.1 171.2L1113.8 169.3L1114.5 167.4L1115.2 165.5L1115.9 163.7L1116.6 161.8L1117.3 159.9L1118.0 158.0L1118.6 156.1L1119.3 154.3L1120.0 152.4L1120.6 150.5L1121.3 148.6L1122.0 146.7L1122.6 144.8L1123.3 142.9L1124.0 141.1L1124.6 139.2L1125.3 137.3L1126.0 135.4L1126.7 133.5L1127.4 131.7L1128.1 129.8L1128.7 127.9L1129.4 126.0L1130.1 124.1L1130.7 122.2L1131.4 120.3L1132.0 118.4L1132.6 116.5L1133.3 114.6L1133.9 112.7L1134.5 110.8L1135.1 108.9L1135.7 107.0L1136.3 105.1L1136.9 103.2L1137.5 101.3L1138.1 99.4L1138.7 97.5L1139.3 95.6L1139.9 93.7L1140.5 91.7L1141.0 89.8L1141.6 87.9L1142.1 86.0L1142.7 84.1L1143.2 82.1L1143.7 80.2L1144.2 78.3L1144.7 76.3L1145.2 74.4L1145.6 72.4L1146.1 70.5L1146.7 68.6L1147.2 66.6L1147.7 64.7L1148.3 62.8L1148.8 60.9L1149.4 58.9L1150.0 57.0L1150.6 55.1L1151.2 53.2L1151.9 51.3L1152.5 49.4L1153.2 47.6L1153.9 45.7L1154.7 43.8L1155.5 41.9L1156.3 40.1L1157.2 38.3L1158.2 36.6L1159.3 34.9L1160.6 33.4L1162.0 32.0L1163.7 31.0L1165.5 30.3L1167.4 30.3L1169.2 30.9L1170.9 32.0L1172.4 33.3L1173.7 34.8L1174.9 36.4L1176.2 38.0L1177.3 39.7L1178.5 41.3L1179.6 43.0L1180.6 44.7L1181.6 46.4L1182.5 48.2L1183.4 50.0L1184.2 51.8L1185.0 53.6L1185.7 55.5L1186.4 57.4L1187.1 59.3L1187.8 61.1L1188.5 63.0L1189.3 64.9L1190.0 66.7L1190.8 68.6L1191.6 70.4L1192.3 72.3L1193.1 74.1L1193.9 76.0L1194.7 77.8L1195.4 79.7L1196.2 81.5L1197.0 83.4L1197.7 85.2L1198.5 87.1L1199.3 88.9L1200.0 90.7L1200.8 92.6L1201.6 94.4L1202.3 96.3L1203.1 98.2L1203.8 100.0L1204.6 101.9L1205.3 103.7L1206.0 105.6L1206.7 107.5L1207.4 109.3L1208.1 111.2L1208.8 113.1L1209.5 115.0L1210.2 116.8L1210.9 118.7L1211.6 120.6L1212.3 122.4L1213.1 124.3L1213.8 126.2L1214.5 128.0L1215.3 129.9L1216.0 131.7L1216.8 133.6L1217.5 135.5L1218.3 137.3L1219.0 139.2L1219.8 141.0L1220.5 142.9L1221.3 144.7L1222.0 146.6L1222.8 148.4L1223.5 150.3L1224.3 152.1L1225.1 154.0L1225.8 155.8L1226.6 157.7L1227.4 159.5L1228.2 161.3L1229.0 163.2L1229.7 165.0L1230.5 166.9L1231.3 168.7L1232.1 170.6L1232.9 172.4L1233.7 174.2L1234.6 176.0L1235.5 177.8L1236.4 179.6L1237.4 181.3L1238.4 183.0L1239.5 184.7L1240.6 186.4L1241.7 188.0L1242.9 189.7L1244.0 191.3L1245.2 193.0L1246.3 194.6L1247.4 196.3L1248.6 198.0L1249.6 199.7L1250.8 201.4L1252.0 203.0L1253.3 204.4L1254.8 205.7L1256.5 206.8L1258.2 207.3L1259.9 206.8L1261.5 205.6L1262.8 204.0L1264.0 202.4L1265.0 200.7L1265.8 198.9L1266.6 197.0L1267.3 195.1L1268.0 193.2L1268.6 191.3L1269.2 189.4L1269.8 187.5L1270.3 185.5L1270.8 183.6L1271.3 181.6L1271.8 179.7L1272.3 177.7L1272.8 175.8L1273.3 173.8L1273.8 171.8L1274.2 169.8L1274.7 167.9L1275.2 165.9L1275.8 164.0L1276.5 162.2L1277.4 160.4L1278.6 158.5L1279.9 156.9L1281.4 156.0L1282.9 156.1L1284.4 157.1L1285.8 158.7L1287.0 160.5L1287.9 162.2L1288.7 164.0L1289.4 165.9L1290.1 167.8L1290.6 169.8L1291.2 171.7L1291.8 173.7L1292.4 175.6L1292.9 177.5L1293.5 179.4L1294.0 181.4L1294.5 183.3L1295.1 185.2L1295.6 187.1L1296.2 189.1L1296.7 191.0L1297.3 192.9L1298.0 194.8L1298.6 196.7L1299.2 198.6L1299.9 200.5L1300.5 202.4L1301.2 204.3L1301.9 206.1L1302.7 208.0L1303.4 209.8L1304.2 211.7L1305.0 213.5L1305.9 215.3L1306.7 217.1L1307.6 218.9L1308.5 220.7L1309.5 222.5L1310.5 224.2L1311.5 225.9L1312.5 227.6L1313.6 229.3L1314.7 231.0L1315.8 232.7L1317.0 234.3L1318.2 235.9L1319.4 237.5L1320.7 239.0L1322.0 240.5L1323.3 242.0L1324.7 243.5L1326.1 244.9L1327.5 246.3L1329.0 247.7L1330.4 249.1L1331.9 250.4L1333.4 251.8L1334.9 253.1L1336.4 254.4L1337.9 255.7L1339.4 257.0L1341.0 258.3L1342.5 259.5L1344.1 260.8L1345.6 262.1L1347.2 263.3L1348.7 264.6L1350.2 265.9L1351.8 267.2L1353.3 268.5L1354.8 269.8L1356.3 271.1L1357.9 272.4L1359.4 273.7L1360.9 275.0L1362.4 276.3L1363.9 277.6L1365.4 278.9L1367.0 280.2L1368.5 281.5L1370.0 282.8L1371.5 284.2L1373.0 285.5L1374.5 286.8L1375.9 288.2L1377.4 289.5L1378.9 290.8L1380.4 292.2L1381.9 293.5L1383.4 294.8L1384.9 296.1L1386.5 297.4L1388.0 298.7L1389.6 299.9L1391.1 301.2L1392.7 302.4L1394.3 303.6L1395.9 304.8L1397.5 306.0L1399.1 307.2L1400.7 308.4L1402.3 309.6L1403.9 310.8L1405.5 312.0L1407.1 313.2L1408.8 314.3L1410.4 315.5L1412.0 316.7L1413.6 317.8L1415.3 319.0L1416.9 320.1L1418.5 321.3L1420.2 322.5L1421.8 323.6L1423.5 324.7L1425.1 325.8L1426.8 326.9L1428.5 328.0L1430.2 329.1L1431.8 330.2L1433.5 331.2L1435.3 332.3L1437.0 333.3L1438.7 334.3L1440.4 335.3L1442.2 336.3L1443.9 337.3L1445.7 338.2L1447.5 339.2L1449.2 340.0L1451.0 340.9L1452.8 341.8L1454.7 342.6L1456.5 343.4L1458.3 344.2L1460.2 345.0L1462.0 345.7L1463.9 346.5L1465.8 347.2L1467.6 347.9L1469.5 348.7L1471.4 349.4L1473.2 350.1L1475.1 350.8L1477.0 351.4L1478.9 352.1L1480.8 352.7L1482.7 353.4L1484.6 354.0L1486.5 354.6L1488.4 355.3L1490.3 355.9L1492.2 356.6L1494.0 357.2L1495.9 357.8L1497.8 358.5L1499.7 359.2L1501.6 359.8L1503.5 360.5L1505.4 361.1L1507.3 361.8L1509.2 362.4L1511.1 363.0L1513.0 363.6L1514.9 364.2L1516.8 364.8L1518.7 365.3L1520.7 365.8L1522.6 366.3L1524.5 366.8L1526.5 367.3L1528.4 367.8L1530.4 368.4L1532.3 369.0L1534.2 369.6L1536.1 370.2L1538.1 370.6L1540.0 370.8L1542.0 370.8L1544.0 370.7L1546.0 370.4L1548.0 370.1L1549.9 369.6L1551.7 368.9L1553.6 367.9L1555.3 366.9L1556.9 365.7L1558.5 364.5L1560.0 363.2L1561.4 361.7L1562.7 360.1L1563.9 358.5L1565.0 356.9L1566.0 355.2L1566.8 353.4L1567.7 351.6L1568.4 349.7L1569.1 347.8L1569.8 345.9L1570.4 344.0L1570.9 342.0L1571.4 340.1L1571.9 338.2L1572.3 336.2L1572.8 334.3L1573.1 332.3L1573.5 330.3L1573.9 328.4L1574.2 326.4L1574.5 324.4L1574.9 322.4L1575.2 320.4L1575.5 318.5L1575.8 316.5L1576.1 314.5L1576.3 312.5L1576.6 310.6L1576.9 308.6L1577.1 306.6L1577.4 304.6L1577.6 302.6L1577.9 300.6L1578.1 298.6L1578.4 296.7L1578.6 294.7L1578.9 292.7L1579.1 290.7L1579.4 288.7L1579.6 286.7L1579.9 284.7L1580.1 282.8L1580.3 280.8L1580.6 278.8L1580.8 276.8L1581.1 274.8L1581.3 272.8L1581.6 270.9L1581.8 268.9L1582.1 266.9L1582.4 264.9L1582.6 262.9L1582.9 260.9L1583.1 259.0L1583.4 257.0L1583.7 255.0L1584.0 253.0L1584.3 251.0L1584.6 249.0L1584.9 247.1L1585.2 245.1L1585.5 243.1L1585.9 241.2L1586.3 239.2L1586.6 237.2L1587.1 235.2L1587.5 233.3L1588.0 231.3L1588.6 229.4L1589.2 227.4L1590.0 225.5L1591.0 223.7L1592.3 222.5L1593.9 221.8L1595.8 221.8L1597.5 222.6L1598.9 224.0L1600.2 225.5L1601.2 227.2L1602.1 229.0L1602.9 230.9L1603.6 232.8L1604.3 234.7L1605.1 236.6L1605.8 238.5L1606.4 240.3L1607.1 242.2L1607.7 244.1L1608.4 246.0L1609.0 247.9L1609.7 249.8L1610.4 251.7L1611.1 253.6L1611.8 255.5L1612.5 257.3L1613.3 259.2L1614.1 261.0L1615.0 262.8L1615.9 264.6L1616.9 266.4L1618.1 268.1L1619.4 269.5L1620.9 270.8L1622.6 271.8L1624.5 272.5L1626.4 272.7L1628.3 272.3L1630.1 271.5L1631.9 270.6L1633.6 269.5L1635.2 268.2L1636.9 267.2L1638.7 266.4L1640.6 265.9L1642.6 265.8L1644.5 266.0L1646.4 266.7L1648.2 267.6L1649.7 268.7L1651.1 270.1L1652.4 271.7L1653.6 273.4L1654.8 275.0L1655.9 276.7L1656.9 278.4L1657.9 280.2L1658.8 281.9L1659.8 283.7L1660.7 285.5L1661.6 287.3L1662.5 289.1L1663.4 290.9L1664.2 292.7L1665.2 294.4L1666.1 296.2L1667.1 298.0L1668.1 299.7L1669.1 301.4L1670.2 303.1L1671.4 304.7L1672.7 306.2L1674.1 307.6L1675.6 309.0L1677.1 310.3L1678.7 311.5L1680.3 312.6L1682.0 313.7L1683.8 314.7L1685.5 315.7L1687.2 316.7L1688.9 317.8L1690.5 319.0L1692.1 320.2L1693.7 321.4L1695.3 322.6L1696.9 323.9L1698.5 325.0L1700.1 326.2L1701.7 327.4L1703.4 328.5L1705.0 329.7L1706.6 330.8L1708.2 332.0L1709.9 333.2L1711.4 334.4L1713.0 335.7L1714.6 336.9L1716.1 338.2L1717.7 339.4L1719.3 340.7L1720.9 341.9L1722.5 343.0L1724.1 344.2L1725.7 345.4L1727.4 346.5L1729.1 347.6L1730.8 348.6L1732.5 349.5L1734.3 350.4L1736.1 351.3L1738.0 352.1L1739.8 352.8L1741.7 353.6L1743.5 354.3L1745.4 355.1L1747.2 355.9L1749.1 356.6L1750.9 357.4L1752.8 358.2L1754.7 358.9L1756.5 359.6L1758.4 360.4L1760.2 361.1L1762.1 361.8L1764.0 362.5L1765.9 363.2L1767.7 363.9L1769.6 364.5L1771.5 365.2L1773.4 365.9L1775.3 366.5L1777.2 367.1L1779.1 367.7L1781.0 368.3L1782.9 368.8L1784.9 369.4L1786.8 369.9L1788.7 370.5L1790.7 371.0L1792.6 371.4L1794.6 371.9L1796.5 372.3L1798.5 372.7L1800.4 373.2L1802.4 373.6L1804.4 373.9L1806.3 374.3L1808.3 374.6L1810.3 374.9L1812.3 375.1L1814.3 375.3L1816.2 375.5L1818.2 375.6L1820.2 375.7L1822.2 375.9L1824.2 376.0L1826.2 376.1L1828.2 376.2L1830.2 376.4L1832.2 376.6L1834.2 376.7L1836.2 376.9L1838.2 377.0L1840.2 377.1L1842.2 377.2L1844.2 377.3L1846.2 377.4L1848.2 377.4L1850.2 377.5L1852.2 377.5L1854.2 377.6L1856.2 377.6L1858.2 377.6L1860.2 377.6L1862.2 377.6L1864.2 377.6L1866.2 377.6L1868.2 377.6L1870.2 377.6L1872.2 377.6L1874.2 377.5L1876.2 377.5L1878.2 377.5L1880.2 377.4L1882.2 377.4L1884.2 377.3L1886.2 377.3L1888.2 377.2L1890.2 377.1L1892.2 377.0L1894.2 376.9L1896.2 376.7L1898.2 376.6L1900.2 376.4L1902.2 376.2L1904.1 375.9L1906.1 375.5L1908.0 374.9L1909.9 374.3L1911.8 373.5L1913.6 372.7L1915.4 371.8L1917.1 370.9L1918.8 369.8L1920.6 368.8L1922.3 367.7L1924.0 366.8L1925.8 365.9L1927.7 365.2L1929.6 364.5L1931.4 363.7L1933.3 362.9L1935.1 362.0L1936.8 361.0L1938.6 360.0L1940.1 358.8L1941.6 357.5L1942.8 356.0L1944.0 354.4L1945.2 352.7L1946.2 350.9L1947.1 349.1L1947.9 347.3L1948.7 345.5L1949.4 343.6L1950.1 341.7L1950.7 339.8L1951.3 337.9L1951.8 336.0L1952.4 334.0L1952.9 332.1L1953.3 330.1L1953.8 328.2L1954.2 326.3L1954.6 324.3L1955.0 322.3L1955.4 320.4L1955.8 318.4L1956.1 316.4L1956.5 314.5L1956.8 312.5L1957.2 310.5L1957.5 308.5L1957.9 306.6L1958.2 304.6L1958.5 302.6L1958.9 300.6L1959.2 298.7L1959.5 296.7L1959.8 294.7L1960.1 292.7L1960.4 290.8L1960.7 288.8L1961.0 286.8L1961.3 284.8L1961.6 282.8L1961.9 280.9L1962.2 278.9L1962.4 276.9L1962.7 274.9L1963.0 272.9L1963.3 271.0L1963.5 269.0L1963.8 267.0L1964.1 265.0L1964.3 263.0L1964.6 261.1L1964.9 259.1L1965.1 257.1L1965.4 255.1L1965.7 253.1L1966.0 251.2L1966.3 249.2L1966.6 247.2L1966.8 245.2L1967.1 243.2L1967.4 241.2L1967.7 239.3L1968.0 237.3L1968.3 235.3L1968.6 233.3L1968.9 231.4L1969.2 229.4L1969.6 227.4L1970.0 225.4L1970.3 223.5L1970.7 221.5L1971.1 219.4L1971.5 217.4L1972.0 215.4L1972.5 213.5L1973.2 211.7L1974.1 210.0L1975.4 208.4L1976.9 207.2L1978.4 206.9L1979.9 207.7L1981.2 209.3L1982.3 211.2L1983.2 213.0L1983.8 214.8L1984.3 216.7L1984.8 218.6L1985.2 220.6L1985.6 222.6L1986.0 224.7L1986.3 226.7L1986.7 228.7L1987.1 230.7L1987.5 232.6L1987.8 234.6L1988.2 236.6L1988.5 238.5L1988.9 240.5L1989.2 242.5L1989.6 244.5L1989.9 246.4L1990.2 248.4L1990.6 250.4L1990.9 252.3L1991.3 254.3L1991.7 256.3L1992.0 258.2L1992.4 260.2L1992.7 262.2L1993.1 264.2L1993.5 266.1L1993.8 268.1L1994.2 270.1L1994.6 272.0L1995.0 274.0L1995.5 275.9L1995.9 277.9L1996.4 279.8L1996.8 281.8L1997.3 283.7L1997.8 285.7L1998.3 287.6L1998.9 289.5L1999.5 291.4L2000.1 293.3L2000.8 295.2L2001.5 297.0L2002.3 298.9L2003.2 300.8L2004.1 302.6L2005.0 304.3L2006.0 306.0L2007.1 307.7L2008.3 309.2L2009.6 310.7L2010.9 312.2L2012.4 313.6L2013.9 314.9L2015.4 316.3L2016.9 317.7L2018.4 319.0L2019.8 320.4L2021.3 321.8L2022.7 323.2L2024.2 324.6L2025.6 325.9L2027.1 327.3L2028.6 328.6L2030.1 329.9L2031.6 331.2L2033.2 332.5L2034.7 333.8L2036.3 335.1L2037.8 336.3L2039.5 337.5L2041.1 338.6L2042.8 339.6L2044.5 340.6L2046.3 341.6L2048.1 342.5L2049.9 343.4L2051.7 344.2L2053.6 344.9L2055.5 345.6L2057.4 346.2L2059.3 346.8L2061.2 347.3L2063.2 347.8L2065.1 348.2L2067.1 348.5L2069.1 348.8L2071.1 349.0L2073.1 349.2L2075.0 349.4L2077.0 349.7L2079.0 350.0L2081.0 350.4L2082.9 350.8L2084.8 351.3L2086.8 351.8L2088.7 352.4L2090.6 352.9L2092.6 353.4L2094.5 353.9L2096.5 354.4L2098.4 354.8L2100.3 355.3L2102.3 355.8L2104.2 356.3L2106.1 356.8L2108.0 357.3L2108.6 357.5" fill="none" stroke="#000000" stroke-width="11.0" stroke-linecap="round" stroke-linejoin="round"/>
<line x1="192.0" y1="1979.0" x2="2111.0" y2="1979.0" stroke="#000" stroke-width="4"/>
<line x1="194.0" y1="1979.0" x2="194.0" y2="1994.0" stroke="#000" stroke-width="4" stroke-linecap="round"/>
<line x1="513.0" y1="1979.0" x2="513.0" y2="1994.0" stroke="#000" stroke-width="4" stroke-linecap="round"/>
<line x1="832.0" y1="1979.0" x2="832.0" y2="1994.0" stroke="#000" stroke-width="4" stroke-linecap="round"/>
<line x1="1152.0" y1="1979.0" x2="1152.0" y2="1994.0" stroke="#000" stroke-width="4" stroke-linecap="round"/>
<line x1="1471.0" y1="1979.0" x2="1471.0" y2="1994.0" stroke="#000" stroke-width="4" stroke-linecap="round"/>
<line x1="1790.0" y1="1979.0" x2="1790.0" y2="1994.0" stroke="#000" stroke-width="4" stroke-linecap="round"/>
<line x1="2109.0" y1="1979.0" x2="2109.0" y2="1994.0" stroke="#000" stroke-width="4" stroke-linecap="round"/>
<line x1="354.0" y1="1979.0" x2="354.0" y2="1987.2" stroke="#000" stroke-width="4" stroke-linecap="round"/>
<line x1="673.0" y1="1979.0" x2="673.0" y2="1987.2" stroke="#000" stroke-width="4" stroke-linecap="round"/>
<line x1="992.0" y1="1979.0" x2="992.0" y2="1987.2" stroke="#000" stroke-width="4" stroke-linecap="round"/>
<line x1="1311.0" y1="1979.0" x2="1311.0" y2="1987.2" stroke="#000" stroke-width="4" stroke-linecap="round"/>
<line x1="1630.0" y1="1979.0" x2="1630.0" y2="1987.2" stroke="#000" stroke-width="4" stroke-linecap="round"/>
<line x1="1949.0" y1="1979.0" x2="1949.0" y2="1987.2" stroke="#000" stroke-width="4" stroke-linecap="round"/>
<text transform="translate(194.0,2070.3) scale(1,1.0350)" font-size="83.0" text-anchor="middle" class="r">1400</text>
<text transform="translate(513.0,2070.3) scale(1,1.0350)" font-size="83.0" text-anchor="middle" class="r">1300</text>
<text transform="translate(832.0,2070.3) scale(1,1.0350)" font-size="83.0" text-anchor="middle" class="r">1200</text>
<text transform="translate(1152.0,2070.3) scale(1,1.0350)" font-size="83.0" text-anchor="middle" class="r">1100</text>
<text transform="translate(1471.0,2070.3) scale(1,1.0350)" font-size="83.0" text-anchor="middle" class="r">1000</text>
<text transform="translate(1790.0,2070.3) scale(1,1.0350)" font-size="83.0" text-anchor="middle" class="r">900</text>
<text transform="translate(2109.0,2070.3) scale(1,1.0350)" font-size="83.0" text-anchor="middle" class="r">800</text>
<text x="869.0" y="2210.3" font-size="83.0" class="r" >wavenumber (cm<tspan font-size="48.0" dy="-45.8">-1</tspan><tspan dy="45.8">)</tspan></text>
<text transform="translate(79.2,1415.0) rotate(-90)" font-size="83.0" class="r" textLength="646.7" lengthAdjust="spacing">absorbance (a.u.)</text>
<text transform="translate(177.7,339.9) scale(1,1.0450)" font-size="69.5" fill="#000000" class="b" >PEO</text>
<text transform="translate(175.2,796.9) scale(1,1.0450)" font-size="69.5" fill="#ff00ff" class="b" textLength="468.5" lengthAdjust="spacing">PEO50-5/U135</text>
<text transform="translate(172.8,1204.0) scale(1,1.0450)" font-size="69.5" fill="#008000" class="b" textLength="467.8" lengthAdjust="spacing">PEO50-5/U150</text>
<text transform="translate(166.4,1475.3) scale(1,1.0450)" font-size="69.5" fill="#8000ff" class="b" >U135</text>
<text transform="translate(195.3,1810.4) scale(1,1.0450)" font-size="69.5" fill="#ff8000" class="b" textLength="164.5" lengthAdjust="spacing">U150</text>
</svg>
</body></html>
